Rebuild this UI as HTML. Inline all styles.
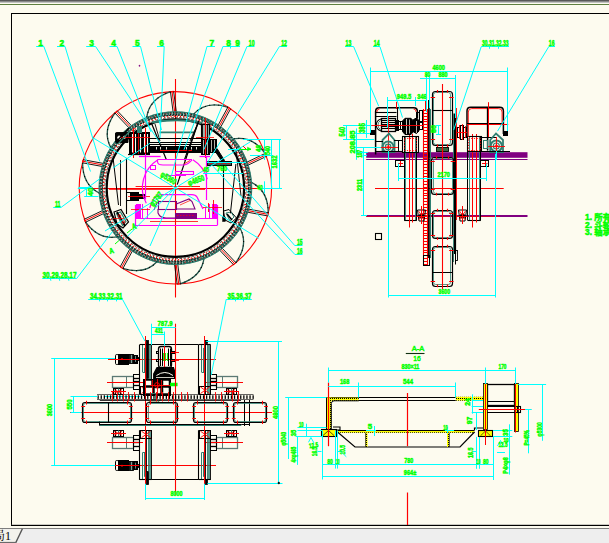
<!DOCTYPE html>
<html><head><meta charset="utf-8"><title>CAD</title>
<style>
html,body{margin:0;padding:0;background:#fdfbef;overflow:hidden}
#wrap{position:relative;width:609px;height:543px;background:#fdfbef;overflow:hidden;font-family:"Liberation Sans","Noto Sans CJK SC",sans-serif}
#topbar{position:absolute;left:0;top:0;width:609px;height:3px;background:linear-gradient(#585858 0,#585858 33%,#8a8a8a 33%,#8a8a8a 66%,#c2c2c2 66%)}
#topline{position:absolute;left:0;top:4px;width:609px;height:1px;background:#5f7f3f}
#tabbar{position:absolute;left:0;top:528px;width:609px;height:15px;background:#eeeeee;border-top:1.4px solid #7e7e7e;box-sizing:border-box}
#tab{position:absolute;left:-19px;top:527.5px;height:16px;width:32px;font-size:12px;line-height:16px;color:#000;font-family:"Liberation Serif","Noto Serif CJK SC",serif;white-space:nowrap}
svg{position:absolute;left:0;top:0}
svg text{font-family:"Liberation Sans","Noto Sans CJK SC",sans-serif}
</style></head><body>
<div id="wrap">
<div id="topbar"></div><div id="topline"></div>
<div id="tabbar"></div>
<svg width="609" height="543" viewBox="0 0 609 543">
<path d="M0.00,529.60 L22.00,529.60 L15.60,543.00 L0.00,543.00 Z" stroke="none" stroke-width="0" fill="#f3f2ec" />
<line x1="22.40" y1="528.80" x2="15.60" y2="543.00" stroke="#555555" stroke-width="1.4" />
<line x1="0.00" y1="542.50" x2="15.80" y2="542.50" stroke="#6a6a6a" stroke-width="1.2" />
<rect x="11.00" y="13.00" width="1.00" height="513.00" rx="0" stroke="none" stroke-width="0" fill="#000000" shape-rendering="crispEdges"/>
<rect x="11.00" y="13.00" width="598.00" height="1.00" rx="0" stroke="none" stroke-width="0" fill="#000000" shape-rendering="crispEdges"/>
<rect x="11.00" y="525.00" width="598.00" height="1.00" rx="0" stroke="none" stroke-width="0" fill="#000000" shape-rendering="crispEdges"/>
<rect x="11.00" y="524.70" width="598.00" height="0.30" rx="0" stroke="none" stroke-width="0" fill="#555" />
<circle cx="139.50" cy="65.80" r="0.70" stroke="#800080" stroke-width="0.3" fill="#800080" />
<circle cx="175.40" cy="187.80" r="96.20" stroke="#ff0000" stroke-width="1.1" fill="none" />
<line x1="175.50" y1="79.00" x2="175.50" y2="297.50" stroke="#ff0000" stroke-width="1.1" />
<line x1="90.50" y1="188.50" x2="258.30" y2="188.50" stroke="#ff0000" stroke-width="1.1" />
<line x1="135.60" y1="186.50" x2="200.00" y2="186.50" stroke="#ff0000" stroke-width="0.9" />
<line x1="109.00" y1="189.50" x2="205.00" y2="189.50" stroke="#ff0000" stroke-width="0.8" />
<path d="M170.70,91.71 Q148.55,98.87 146.70,118.51" stroke="#22574c" stroke-width="1.3" fill="none" />
<path d="M170.70,91.71 Q148.55,98.87 146.70,118.51" stroke="#000000" stroke-width="1.1" fill="none" stroke-dasharray="1 3.5"/>
<path d="M115.12,112.83 Q101.40,131.63 111.45,148.61" stroke="#22574c" stroke-width="1.3" fill="none" />
<path d="M115.12,112.83 Q101.40,131.63 111.45,148.61" stroke="#000000" stroke-width="1.1" fill="none" stroke-dasharray="1 3.5"/>
<path d="M82.57,162.58 Q82.52,185.85 100.63,193.68" stroke="#22574c" stroke-width="1.3" fill="none" />
<path d="M82.57,162.58 Q82.52,185.85 100.63,193.68" stroke="#000000" stroke-width="1.1" fill="none" stroke-dasharray="1 3.5"/>
<path d="M85.47,221.96 Q99.12,240.82 118.37,236.51" stroke="#22574c" stroke-width="1.3" fill="none" />
<path d="M85.47,221.96 Q99.12,240.82 118.37,236.51" stroke="#000000" stroke-width="1.1" fill="none" stroke-dasharray="1 3.5"/>
<path d="M122.72,268.30 Q144.85,275.53 157.89,260.73" stroke="#22574c" stroke-width="1.3" fill="none" />
<path d="M122.72,268.30 Q144.85,275.53 157.89,260.73" stroke="#000000" stroke-width="1.1" fill="none" stroke-dasharray="1 3.5"/>
<path d="M180.10,283.89 Q202.25,276.73 204.10,257.09" stroke="#22574c" stroke-width="1.3" fill="none" />
<path d="M180.10,283.89 Q202.25,276.73 204.10,257.09" stroke="#000000" stroke-width="1.1" fill="none" stroke-dasharray="1 3.5"/>
<path d="M235.68,262.77 Q249.40,243.97 239.35,226.99" stroke="#22574c" stroke-width="1.3" fill="none" />
<path d="M235.68,262.77 Q249.40,243.97 239.35,226.99" stroke="#000000" stroke-width="1.1" fill="none" stroke-dasharray="1 3.5"/>
<path d="M268.23,213.02 Q268.28,189.75 250.17,181.92" stroke="#22574c" stroke-width="1.3" fill="none" />
<path d="M268.23,213.02 Q268.28,189.75 250.17,181.92" stroke="#000000" stroke-width="1.1" fill="none" stroke-dasharray="1 3.5"/>
<path d="M265.33,153.64 Q251.68,134.78 232.43,139.09" stroke="#22574c" stroke-width="1.3" fill="none" />
<path d="M265.33,153.64 Q251.68,134.78 232.43,139.09" stroke="#000000" stroke-width="1.1" fill="none" stroke-dasharray="1 3.5"/>
<path d="M228.08,107.30 Q205.95,100.07 192.91,114.87" stroke="#22574c" stroke-width="1.3" fill="none" />
<path d="M228.08,107.30 Q205.95,100.07 192.91,114.87" stroke="#000000" stroke-width="1.1" fill="none" stroke-dasharray="1 3.5"/>
<line x1="170.45" y1="91.67" x2="173.15" y2="112.21" stroke="#000000" stroke-width="0.9" />
<line x1="173.62" y1="91.25" x2="176.32" y2="111.79" stroke="#000000" stroke-width="0.9" />
<line x1="172.04" y1="91.46" x2="174.74" y2="112.00" stroke="#ff0000" stroke-width="1" />
<line x1="170.45" y1="91.67" x2="173.62" y2="91.25" stroke="#ff0000" stroke-width="1" />
<line x1="114.89" y1="112.94" x2="129.15" y2="127.97" stroke="#000000" stroke-width="0.9" />
<line x1="117.21" y1="110.73" x2="131.47" y2="125.77" stroke="#000000" stroke-width="0.9" />
<line x1="116.05" y1="111.84" x2="130.31" y2="126.87" stroke="#ff0000" stroke-width="1" />
<line x1="114.89" y1="112.94" x2="117.21" y2="110.73" stroke="#ff0000" stroke-width="1" />
<line x1="82.44" y1="162.80" x2="102.82" y2="166.58" stroke="#000000" stroke-width="0.9" />
<line x1="83.03" y1="159.66" x2="103.40" y2="163.43" stroke="#000000" stroke-width="0.9" />
<line x1="82.73" y1="161.23" x2="103.11" y2="165.01" stroke="#ff0000" stroke-width="1" />
<line x1="82.44" y1="162.80" x2="83.03" y2="159.66" stroke="#ff0000" stroke-width="1" />
<line x1="85.50" y1="222.21" x2="104.21" y2="213.30" stroke="#000000" stroke-width="0.9" />
<line x1="84.12" y1="219.33" x2="102.83" y2="210.41" stroke="#000000" stroke-width="0.9" />
<line x1="84.81" y1="220.77" x2="103.52" y2="211.85" stroke="#ff0000" stroke-width="1" />
<line x1="85.50" y1="222.21" x2="84.12" y2="219.33" stroke="#ff0000" stroke-width="1" />
<line x1="122.90" y1="268.48" x2="132.79" y2="250.27" stroke="#000000" stroke-width="0.9" />
<line x1="120.09" y1="266.96" x2="129.98" y2="248.75" stroke="#000000" stroke-width="0.9" />
<line x1="121.49" y1="267.72" x2="131.38" y2="249.51" stroke="#ff0000" stroke-width="1" />
<line x1="122.90" y1="268.48" x2="120.09" y2="266.96" stroke="#ff0000" stroke-width="1" />
<line x1="180.35" y1="283.93" x2="177.65" y2="263.39" stroke="#000000" stroke-width="0.9" />
<line x1="177.18" y1="284.35" x2="174.48" y2="263.81" stroke="#000000" stroke-width="0.9" />
<line x1="178.76" y1="284.14" x2="176.06" y2="263.60" stroke="#ff0000" stroke-width="1" />
<line x1="180.35" y1="283.93" x2="177.18" y2="284.35" stroke="#ff0000" stroke-width="1" />
<line x1="235.91" y1="262.66" x2="221.65" y2="247.63" stroke="#000000" stroke-width="0.9" />
<line x1="233.59" y1="264.87" x2="219.33" y2="249.83" stroke="#000000" stroke-width="0.9" />
<line x1="234.75" y1="263.76" x2="220.49" y2="248.73" stroke="#ff0000" stroke-width="1" />
<line x1="235.91" y1="262.66" x2="233.59" y2="264.87" stroke="#ff0000" stroke-width="1" />
<line x1="268.36" y1="212.80" x2="247.98" y2="209.02" stroke="#000000" stroke-width="0.9" />
<line x1="267.77" y1="215.94" x2="247.40" y2="212.17" stroke="#000000" stroke-width="0.9" />
<line x1="268.07" y1="214.37" x2="247.69" y2="210.59" stroke="#ff0000" stroke-width="1" />
<line x1="268.36" y1="212.80" x2="267.77" y2="215.94" stroke="#ff0000" stroke-width="1" />
<line x1="265.30" y1="153.39" x2="246.59" y2="162.30" stroke="#000000" stroke-width="0.9" />
<line x1="266.68" y1="156.27" x2="247.97" y2="165.19" stroke="#000000" stroke-width="0.9" />
<line x1="265.99" y1="154.83" x2="247.28" y2="163.75" stroke="#ff0000" stroke-width="1" />
<line x1="265.30" y1="153.39" x2="266.68" y2="156.27" stroke="#ff0000" stroke-width="1" />
<line x1="227.90" y1="107.12" x2="218.01" y2="125.33" stroke="#000000" stroke-width="0.9" />
<line x1="230.71" y1="108.64" x2="220.82" y2="126.85" stroke="#000000" stroke-width="0.9" />
<line x1="229.31" y1="107.88" x2="219.42" y2="126.09" stroke="#ff0000" stroke-width="1" />
<line x1="227.90" y1="107.12" x2="230.71" y2="108.64" stroke="#ff0000" stroke-width="1" />
<circle cx="175.40" cy="188.10" r="74.60" stroke="#24665a" stroke-width="3.8" fill="none" stroke-dasharray="2.4 0.5"/>
<circle cx="175.40" cy="188.10" r="73.70" stroke="#000000" stroke-width="0.9" fill="none" stroke-dasharray="1.2 1.9"/>
<circle cx="175.40" cy="188.10" r="76.40" stroke="#2f7f70" stroke-width="1.0" fill="none" />
<circle cx="175.40" cy="188.10" r="74.10" stroke="#fdfbef" stroke-width="0.6" fill="none" stroke-dasharray="0.8 3.3"/>
<circle cx="175.40" cy="188.10" r="75.50" stroke="#000000" stroke-width="0.8" fill="none" stroke-dasharray="1 2.6"/>
<circle cx="175.40" cy="188.10" r="72.80" stroke="#000000" stroke-width="1.0" fill="none" stroke-dasharray="1.6 1.4"/>
<circle cx="175.40" cy="188.10" r="71.80" stroke="#ff0000" stroke-width="1.5" fill="none" stroke-dasharray="1.1 2.1"/>
<circle cx="175.40" cy="188.10" r="74.90" stroke="#ff0000" stroke-width="1.0" fill="none" stroke-dasharray="0.9 4.2"/>
<circle cx="175.40" cy="188.10" r="70.60" stroke="#000000" stroke-width="0.7" fill="none" stroke-dasharray="2.5 1.5"/>
<circle cx="175.40" cy="188.10" r="68.70" stroke="#000000" stroke-width="2.2" fill="none" />
<path d="M152,122.5 Q175.5,118.5 199,122" stroke="#2f7f70" stroke-width="2" fill="none" />
<line x1="159.50" y1="132.30" x2="194.00" y2="132.30" stroke="#2f7f70" stroke-width="1.8" />
<line x1="151.50" y1="123.30" x2="166.40" y2="159.80" stroke="#000000" stroke-width="1.2" />
<line x1="198.70" y1="120.80" x2="177.20" y2="184.60" stroke="#000000" stroke-width="1.2" />
<line x1="197.50" y1="124.00" x2="190.00" y2="141.00" stroke="#000000" stroke-width="0.9" />
<line x1="155.00" y1="124.00" x2="160.00" y2="141.00" stroke="#000000" stroke-width="0.9" />
<line x1="149.00" y1="138.50" x2="202.00" y2="138.50" stroke="#000000" stroke-width="1.0" />
<line x1="149.00" y1="142.50" x2="202.00" y2="142.50" stroke="#000000" stroke-width="1.2" />
<rect x="149.50" y="146.50" width="52.00" height="6.00" rx="0" stroke="#000000" stroke-width="1" fill="#000000" />
<line x1="149.00" y1="144.50" x2="202.00" y2="144.50" stroke="#000000" stroke-width="1.0" />
<line x1="160.00" y1="150.50" x2="192.00" y2="150.50" stroke="#ff0000" stroke-width="0.9" />
<line x1="156.50" y1="147.00" x2="156.50" y2="149.50" stroke="#fdfbef" stroke-width="0.9" />
<line x1="160.50" y1="147.00" x2="160.50" y2="149.50" stroke="#fdfbef" stroke-width="0.9" />
<line x1="166.50" y1="147.00" x2="166.50" y2="149.50" stroke="#fdfbef" stroke-width="0.9" />
<line x1="186.50" y1="147.00" x2="186.50" y2="149.50" stroke="#fdfbef" stroke-width="0.9" />
<line x1="191.50" y1="147.00" x2="191.50" y2="149.50" stroke="#fdfbef" stroke-width="0.9" />
<line x1="196.50" y1="147.00" x2="196.50" y2="149.50" stroke="#fdfbef" stroke-width="0.9" />
<path d="M115.5,134 Q115,132.6 117,132.6 L128,132.6 L128,142.5 L117,142.5 Q115,142.5 115.5,140.5 Z" stroke="#000000" stroke-width="1" fill="#000000" />
<circle cx="119.20" cy="137.60" r="1.60" stroke="#fdfbef" stroke-width="0.8" fill="#fdfbef" />
<circle cx="124.50" cy="137.20" r="1.20" stroke="#fdfbef" stroke-width="0.6" fill="#fdfbef" />
<rect x="129.50" y="132.50" width="20.00" height="22.00" rx="0" stroke="#000000" stroke-width="1" fill="#000000" />
<line x1="132.50" y1="134.00" x2="132.50" y2="152.50" stroke="#fdfbef" stroke-width="1.1" />
<line x1="135.50" y1="134.00" x2="135.50" y2="152.50" stroke="#fdfbef" stroke-width="1.1" />
<line x1="140.50" y1="134.00" x2="140.50" y2="152.50" stroke="#fdfbef" stroke-width="1.1" />
<line x1="144.50" y1="134.00" x2="144.50" y2="152.50" stroke="#fdfbef" stroke-width="1.1" />
<line x1="147.50" y1="134.00" x2="147.50" y2="152.50" stroke="#fdfbef" stroke-width="1.1" />
<line x1="133.50" y1="128.00" x2="133.50" y2="158.00" stroke="#ff0000" stroke-width="1.0" />
<line x1="145.50" y1="128.00" x2="145.50" y2="158.00" stroke="#ff0000" stroke-width="1.0" />
<line x1="129.00" y1="137.50" x2="150.00" y2="137.50" stroke="#ff0000" stroke-width="0.8" />
<line x1="120.00" y1="137.50" x2="130.00" y2="137.50" stroke="#ff0000" stroke-width="0.8" />
<line x1="138.50" y1="131.00" x2="138.50" y2="154.00" stroke="#ff0000" stroke-width="0.8" />
<rect x="137.50" y="126.50" width="4.00" height="6.00" rx="0" stroke="#2f7f70" stroke-width="1" fill="#2f7f70" />
<line x1="128.00" y1="154.50" x2="150.00" y2="154.50" stroke="#000000" stroke-width="1.2" />
<line x1="116.00" y1="142.00" x2="129.00" y2="128.00" stroke="#000000" stroke-width="1.4" />
<line x1="118.00" y1="144.00" x2="131.00" y2="130.00" stroke="#2f7f70" stroke-width="1.2" />
<rect x="201.50" y="124.50" width="8.00" height="15.00" rx="0" stroke="#000000" stroke-width="1.1" fill="#9db5ae" />
<line x1="202.50" y1="124.00" x2="202.50" y2="139.50" stroke="#000000" stroke-width="0.9" />
<line x1="207.50" y1="124.00" x2="207.50" y2="139.50" stroke="#000000" stroke-width="0.9" />
<rect x="201.50" y="139.50" width="8.00" height="15.00" rx="0" stroke="#000000" stroke-width="1" fill="#000000" />
<line x1="203.50" y1="140.00" x2="203.50" y2="154.00" stroke="#fdfbef" stroke-width="0.7" />
<line x1="207.50" y1="140.00" x2="207.50" y2="154.00" stroke="#fdfbef" stroke-width="0.7" />
<path d="M199.50,124.00 L205.20,119.00 L211.00,124.00" stroke="#2f7f70" stroke-width="1.3" fill="none" />
<line x1="205.50" y1="118.00" x2="205.50" y2="158.00" stroke="#ff0000" stroke-width="1.1" />
<line x1="196.00" y1="137.50" x2="214.00" y2="137.50" stroke="#ff0000" stroke-width="0.8" />
<rect x="209.50" y="139.50" width="7.00" height="13.00" rx="0" stroke="#000000" stroke-width="1" fill="#000000" />
<line x1="211.50" y1="140.00" x2="211.50" y2="152.00" stroke="#fdfbef" stroke-width="0.7" />
<line x1="214.50" y1="140.00" x2="214.50" y2="152.00" stroke="#fdfbef" stroke-width="0.7" />
<path d="M214.00,149.50 L217.00,148.50 L224.50,160.50 L222.00,161.50 Z" stroke="#000000" stroke-width="1" fill="#000000" />
<line x1="198.00" y1="123.00" x2="184.20" y2="160.30" stroke="#000000" stroke-width="1.1" />
<rect x="207.50" y="161.50" width="24.00" height="4.00" rx="0" stroke="#000000" stroke-width="1" fill="#3a5a55" />
<line x1="209.00" y1="163.50" x2="231.00" y2="163.50" stroke="#ff0000" stroke-width="0.8" stroke-dasharray="3 1.5"/>
<line x1="126.50" y1="158.00" x2="126.50" y2="214.00" stroke="#000000" stroke-width="1.1" />
<line x1="113.30" y1="159.80" x2="118.50" y2="205.00" stroke="#000000" stroke-width="1.0" />
<line x1="120.50" y1="160.00" x2="120.50" y2="206.00" stroke="#000000" stroke-width="0.9" />
<rect x="130.50" y="192.50" width="8.00" height="8.00" rx="0" stroke="#000000" stroke-width="1" fill="#000000" />
<rect x="138.50" y="194.50" width="7.00" height="4.00" rx="0" stroke="#000000" stroke-width="1" fill="#000000" />
<line x1="128.00" y1="196.50" x2="150.00" y2="196.50" stroke="#ff0000" stroke-width="0.8" />
<line x1="126.60" y1="192.50" x2="131.00" y2="192.50" stroke="#000000" stroke-width="1" />
<line x1="126.60" y1="200.50" x2="131.00" y2="200.50" stroke="#000000" stroke-width="1" />
<path d="M114.00,212.00 L121.00,209.50 L128.50,222.00 L123.00,228.00 L117.00,224.00 Z" stroke="#000000" stroke-width="1.2" fill="none" />
<path d="M116.50,213.50 L120.50,212.00 L126.00,221.50 L122.50,225.50 Z" stroke="#2f7f70" stroke-width="1.2" fill="none" />
<line x1="117.00" y1="212.00" x2="125.00" y2="226.00" stroke="#000000" stroke-width="1.8" />
<circle cx="119.50" cy="216.00" r="1.30" stroke="#ff0000" stroke-width="0.8" fill="none" />
<circle cx="123.50" cy="222.00" r="1.30" stroke="#ff0000" stroke-width="0.8" fill="none" />
<line x1="113.00" y1="218.50" x2="127.00" y2="218.50" stroke="#ff0000" stroke-width="0.7" />
<path d="M223.50,211.00 L229.00,209.50 L236.50,218.00 L231.00,223.00 L225.00,220.00 Z" stroke="#000000" stroke-width="1" fill="none" />
<path d="M226.00,213.00 L231.00,212.00 L234.00,217.00 L230.00,221.00 Z" stroke="#2f7f70" stroke-width="1" fill="none" />
<line x1="227.00" y1="214.00" x2="232.00" y2="220.00" stroke="#000000" stroke-width="1.6" />
<line x1="223.50" y1="165.20" x2="223.50" y2="220.00" stroke="#000000" stroke-width="1.1" />
<line x1="235.90" y1="164.00" x2="230.40" y2="213.40" stroke="#000000" stroke-width="1.0" />
<rect x="222.60" y="217.00" width="2.80" height="4.50" rx="0" stroke="#000000" stroke-width="0.5" fill="#000000" />
<line x1="236.00" y1="150.00" x2="241.00" y2="196.00" stroke="#000000" stroke-width="0.9" />
<line x1="139.00" y1="156.50" x2="160.60" y2="156.50" stroke="#ff00ff" stroke-width="1.3" />
<line x1="199.50" y1="156.50" x2="210.00" y2="156.50" stroke="#ff00ff" stroke-width="1.3" />
<line x1="145.50" y1="154.00" x2="145.50" y2="199.50" stroke="#ff00ff" stroke-width="1.2" />
<line x1="206.50" y1="157.00" x2="206.50" y2="200.00" stroke="#ff00ff" stroke-width="1.2" />
<path d="M157.91,159.81 A33,33 0 0 0 146.26,203.29" stroke="#ff00ff" stroke-width="1.2" fill="none" />
<path d="M192.89,159.81 A33,33 0 0 1 207.28,179.26" stroke="#ff00ff" stroke-width="1.2" fill="none" />
<path d="M157.5,159.8 L157.5,162 Q158,165 163,165 L184,165 Q188,164.5 192,159.8" stroke="#ff00ff" stroke-width="1.2" fill="none" />
<line x1="157.50" y1="159.50" x2="192.00" y2="159.50" stroke="#ff00ff" stroke-width="1.0" />
<line x1="184.00" y1="164.00" x2="190.00" y2="160.50" stroke="#ff0000" stroke-width="0.8" />
<rect x="150.50" y="165.50" width="5.00" height="4.00" rx="0" stroke="#ff00ff" stroke-width="1" fill="none" />
<rect x="175.50" y="171.50" width="18.00" height="3.00" rx="0" stroke="#ff00ff" stroke-width="1.1" fill="none" />
<line x1="166.00" y1="175.50" x2="186.00" y2="175.50" stroke="#ff00ff" stroke-width="1" />
<path d="M149.8,208 Q152,199 157,195.5 Q159,194.6 162,194.6 L192,194.6 Q195.5,194.6 197,197 L203,209" stroke="#ff00ff" stroke-width="1.3" fill="none" />
<path d="M154,210 Q157,201 160,201.5" stroke="#800080" stroke-width="1" fill="none" />
<line x1="135.00" y1="218.50" x2="217.50" y2="218.50" stroke="#ff00ff" stroke-width="1.2" />
<line x1="135.00" y1="225.50" x2="217.50" y2="225.50" stroke="#ff00ff" stroke-width="1.2" />
<line x1="135.50" y1="204.90" x2="135.50" y2="225.10" stroke="#ff00ff" stroke-width="1.2" />
<line x1="217.50" y1="204.90" x2="217.50" y2="225.10" stroke="#ff00ff" stroke-width="1.2" />
<rect x="136.50" y="204.50" width="4.00" height="14.00" rx="0" stroke="#ff00ff" stroke-width="1" fill="#ff00ff" />
<line x1="142.50" y1="204.00" x2="142.50" y2="219.00" stroke="#ff00ff" stroke-width="1" />
<line x1="147.50" y1="208.00" x2="147.50" y2="219.00" stroke="#ff00ff" stroke-width="1" />
<rect x="158.50" y="201.50" width="18.00" height="8.00" rx="0" stroke="#800080" stroke-width="1.1" fill="none" />
<path d="M176.30,204.00 L189.00,199.00 L192.00,201.50 L195.00,209.00 L176.30,209.00 Z" stroke="#800080" stroke-width="1.1" fill="none" />
<line x1="180.00" y1="205.00" x2="190.00" y2="200.50" stroke="#ff0000" stroke-width="0.7" />
<rect x="175.50" y="213.50" width="21.00" height="5.00" rx="0" stroke="#800080" stroke-width="1" fill="#800080" />
<line x1="177.00" y1="215.50" x2="195.00" y2="215.50" stroke="#ff0000" stroke-width="0.7" stroke-dasharray="1.5 1.5"/>
<path d="M158,209 L158,213 Q160,218 166,218 L196,218" stroke="#800080" stroke-width="1.1" fill="none" />
<line x1="205.50" y1="208.00" x2="205.50" y2="219.00" stroke="#ff00ff" stroke-width="1" />
<line x1="209.50" y1="204.00" x2="209.50" y2="219.00" stroke="#ff00ff" stroke-width="1" />
<rect x="212.50" y="204.50" width="4.00" height="14.00" rx="0" stroke="#ff00ff" stroke-width="1" fill="#ff00ff" />
<line x1="208.50" y1="203.00" x2="208.50" y2="212.00" stroke="#ff0000" stroke-width="0.9" />
<line x1="131.00" y1="209.50" x2="150.00" y2="209.50" stroke="#ff0000" stroke-width="0.8" />
<line x1="203.00" y1="207.50" x2="222.00" y2="207.50" stroke="#ff0000" stroke-width="0.8" />
<line x1="213.50" y1="200.00" x2="213.50" y2="214.00" stroke="#ff0000" stroke-width="0.9" />
<line x1="150.00" y1="221.50" x2="198.00" y2="221.50" stroke="#ff0000" stroke-width="0.8" />
<rect x="366.20" y="152.20" width="161.30" height="5.60" rx="0" stroke="none" stroke-width="0" fill="#800080" />
<line x1="366.20" y1="159.50" x2="527.50" y2="159.50" stroke="#800080" stroke-width="1" />
<line x1="366.20" y1="216.00" x2="527.50" y2="216.00" stroke="#800080" stroke-width="1.8" />
<line x1="375.00" y1="188.50" x2="503.70" y2="188.50" stroke="#ff0000" stroke-width="1.1" />
<line x1="366.00" y1="216.50" x2="500.00" y2="216.50" stroke="#ff0000" stroke-width="0.6" />
<line x1="404.50" y1="137.00" x2="404.50" y2="220.50" stroke="#000000" stroke-width="1.0" />
<line x1="405.50" y1="137.00" x2="405.50" y2="220.50" stroke="#2f7f70" stroke-width="0.9" />
<line x1="416.50" y1="137.00" x2="416.50" y2="220.50" stroke="#000000" stroke-width="1.0" />
<line x1="415.50" y1="137.00" x2="415.50" y2="220.50" stroke="#2f7f70" stroke-width="0.9" />
<line x1="404.20" y1="220.50" x2="416.80" y2="220.50" stroke="#000000" stroke-width="1.1" />
<line x1="409.50" y1="134.00" x2="409.50" y2="227.50" stroke="#ff0000" stroke-width="1.0" />
<line x1="412.50" y1="134.00" x2="412.50" y2="222.50" stroke="#ff0000" stroke-width="1.0" />
<line x1="467.50" y1="137.00" x2="467.50" y2="220.50" stroke="#000000" stroke-width="1.0" />
<line x1="469.50" y1="137.00" x2="469.50" y2="220.50" stroke="#2f7f70" stroke-width="0.9" />
<line x1="480.50" y1="137.00" x2="480.50" y2="220.50" stroke="#000000" stroke-width="1.0" />
<line x1="479.50" y1="137.00" x2="479.50" y2="220.50" stroke="#2f7f70" stroke-width="0.9" />
<line x1="467.70" y1="220.50" x2="480.80" y2="220.50" stroke="#000000" stroke-width="1.1" />
<line x1="472.50" y1="134.00" x2="472.50" y2="227.50" stroke="#ff0000" stroke-width="1.0" />
<line x1="476.50" y1="134.00" x2="476.50" y2="222.50" stroke="#ff0000" stroke-width="1.0" />
<rect x="402.50" y="136.50" width="16.00" height="16.00" rx="0" stroke="#000000" stroke-width="1.1" fill="none" />
<rect x="404.50" y="138.50" width="12.00" height="12.00" rx="0" stroke="#ff0000" stroke-width="0.9" fill="none" stroke-dasharray="1.2 1.5"/>
<rect x="467.50" y="136.50" width="14.00" height="15.00" rx="0" stroke="#000000" stroke-width="1.1" fill="none" />
<rect x="468.50" y="138.50" width="12.00" height="12.00" rx="0" stroke="#ff0000" stroke-width="0.9" fill="none" stroke-dasharray="1.2 1.5"/>
<rect x="395.50" y="160.50" width="9.00" height="6.00" rx="0" stroke="#000000" stroke-width="1" fill="none" />
<line x1="398.00" y1="163.50" x2="403.00" y2="163.50" stroke="#ff0000" stroke-width="1" />
<line x1="400.50" y1="161.00" x2="400.50" y2="166.00" stroke="#ff0000" stroke-width="1" />
<rect x="480.50" y="160.50" width="8.00" height="6.00" rx="0" stroke="#000000" stroke-width="1" fill="none" />
<line x1="482.00" y1="163.50" x2="487.50" y2="163.50" stroke="#ff0000" stroke-width="1" />
<line x1="485.50" y1="161.00" x2="485.50" y2="166.00" stroke="#ff0000" stroke-width="1" />
<line x1="423.50" y1="109.00" x2="423.50" y2="265.00" stroke="#ff0000" stroke-width="1.1" />
<line x1="427.50" y1="109.00" x2="427.50" y2="265.00" stroke="#ff0000" stroke-width="1.1" />
<line x1="428.90" y1="100.00" x2="428.90" y2="258.00" stroke="#000000" stroke-width="1.7" />
<line x1="430.50" y1="109.00" x2="430.50" y2="258.00" stroke="#2f7f70" stroke-width="1.0" />
<line x1="425.50" y1="100.00" x2="425.50" y2="110.00" stroke="#ff0000" stroke-width="1.0" />
<line x1="423.40" y1="110.50" x2="427.30" y2="110.50" stroke="#ff0000" stroke-width="1.0" />
<line x1="423.40" y1="113.50" x2="427.30" y2="113.50" stroke="#ff0000" stroke-width="1.0" />
<line x1="423.40" y1="116.50" x2="427.30" y2="116.50" stroke="#ff0000" stroke-width="1.0" />
<line x1="423.40" y1="119.50" x2="427.30" y2="119.50" stroke="#ff0000" stroke-width="1.0" />
<line x1="423.40" y1="121.50" x2="427.30" y2="121.50" stroke="#ff0000" stroke-width="1.0" />
<line x1="423.40" y1="124.50" x2="427.30" y2="124.50" stroke="#ff0000" stroke-width="1.0" />
<line x1="423.40" y1="127.50" x2="427.30" y2="127.50" stroke="#ff0000" stroke-width="1.0" />
<line x1="423.40" y1="130.50" x2="427.30" y2="130.50" stroke="#ff0000" stroke-width="1.0" />
<line x1="423.40" y1="133.50" x2="427.30" y2="133.50" stroke="#ff0000" stroke-width="1.0" />
<line x1="423.40" y1="136.50" x2="427.30" y2="136.50" stroke="#ff0000" stroke-width="1.0" />
<line x1="423.40" y1="138.50" x2="427.30" y2="138.50" stroke="#ff0000" stroke-width="1.0" />
<line x1="423.40" y1="141.50" x2="427.30" y2="141.50" stroke="#ff0000" stroke-width="1.0" />
<line x1="423.40" y1="144.50" x2="427.30" y2="144.50" stroke="#ff0000" stroke-width="1.0" />
<line x1="423.40" y1="147.50" x2="427.30" y2="147.50" stroke="#ff0000" stroke-width="1.0" />
<line x1="423.40" y1="150.50" x2="427.30" y2="150.50" stroke="#ff0000" stroke-width="1.0" />
<line x1="423.40" y1="153.50" x2="427.30" y2="153.50" stroke="#ff0000" stroke-width="1.0" />
<line x1="423.40" y1="156.50" x2="427.30" y2="156.50" stroke="#ff0000" stroke-width="1.0" />
<line x1="423.40" y1="158.50" x2="427.30" y2="158.50" stroke="#ff0000" stroke-width="1.0" />
<line x1="423.40" y1="161.50" x2="427.30" y2="161.50" stroke="#ff0000" stroke-width="1.0" />
<line x1="423.40" y1="164.50" x2="427.30" y2="164.50" stroke="#ff0000" stroke-width="1.0" />
<line x1="423.40" y1="167.50" x2="427.30" y2="167.50" stroke="#ff0000" stroke-width="1.0" />
<line x1="423.40" y1="170.50" x2="427.30" y2="170.50" stroke="#ff0000" stroke-width="1.0" />
<line x1="423.40" y1="173.50" x2="427.30" y2="173.50" stroke="#ff0000" stroke-width="1.0" />
<line x1="423.40" y1="176.50" x2="427.30" y2="176.50" stroke="#ff0000" stroke-width="1.0" />
<line x1="423.40" y1="178.50" x2="427.30" y2="178.50" stroke="#ff0000" stroke-width="1.0" />
<line x1="423.40" y1="181.50" x2="427.30" y2="181.50" stroke="#ff0000" stroke-width="1.0" />
<line x1="423.40" y1="184.50" x2="427.30" y2="184.50" stroke="#ff0000" stroke-width="1.0" />
<line x1="423.40" y1="187.50" x2="427.30" y2="187.50" stroke="#ff0000" stroke-width="1.0" />
<line x1="423.40" y1="190.50" x2="427.30" y2="190.50" stroke="#ff0000" stroke-width="1.0" />
<line x1="423.40" y1="193.50" x2="427.30" y2="193.50" stroke="#ff0000" stroke-width="1.0" />
<line x1="423.40" y1="195.50" x2="427.30" y2="195.50" stroke="#ff0000" stroke-width="1.0" />
<line x1="423.40" y1="198.50" x2="427.30" y2="198.50" stroke="#ff0000" stroke-width="1.0" />
<line x1="423.40" y1="201.50" x2="427.30" y2="201.50" stroke="#ff0000" stroke-width="1.0" />
<line x1="423.40" y1="204.50" x2="427.30" y2="204.50" stroke="#ff0000" stroke-width="1.0" />
<line x1="423.40" y1="207.50" x2="427.30" y2="207.50" stroke="#ff0000" stroke-width="1.0" />
<line x1="423.40" y1="210.50" x2="427.30" y2="210.50" stroke="#ff0000" stroke-width="1.0" />
<line x1="423.40" y1="213.50" x2="427.30" y2="213.50" stroke="#ff0000" stroke-width="1.0" />
<line x1="423.40" y1="215.50" x2="427.30" y2="215.50" stroke="#ff0000" stroke-width="1.0" />
<line x1="423.40" y1="218.50" x2="427.30" y2="218.50" stroke="#ff0000" stroke-width="1.0" />
<line x1="423.40" y1="221.50" x2="427.30" y2="221.50" stroke="#ff0000" stroke-width="1.0" />
<line x1="423.40" y1="224.50" x2="427.30" y2="224.50" stroke="#ff0000" stroke-width="1.0" />
<line x1="423.40" y1="227.50" x2="427.30" y2="227.50" stroke="#ff0000" stroke-width="1.0" />
<line x1="423.40" y1="230.50" x2="427.30" y2="230.50" stroke="#ff0000" stroke-width="1.0" />
<line x1="423.40" y1="233.50" x2="427.30" y2="233.50" stroke="#ff0000" stroke-width="1.0" />
<line x1="423.40" y1="235.50" x2="427.30" y2="235.50" stroke="#ff0000" stroke-width="1.0" />
<line x1="423.40" y1="238.50" x2="427.30" y2="238.50" stroke="#ff0000" stroke-width="1.0" />
<line x1="423.40" y1="241.50" x2="427.30" y2="241.50" stroke="#ff0000" stroke-width="1.0" />
<line x1="423.40" y1="244.50" x2="427.30" y2="244.50" stroke="#ff0000" stroke-width="1.0" />
<line x1="423.40" y1="247.50" x2="427.30" y2="247.50" stroke="#ff0000" stroke-width="1.0" />
<line x1="423.40" y1="250.50" x2="427.30" y2="250.50" stroke="#ff0000" stroke-width="1.0" />
<line x1="423.40" y1="252.50" x2="427.30" y2="252.50" stroke="#ff0000" stroke-width="1.0" />
<line x1="423.40" y1="255.50" x2="427.30" y2="255.50" stroke="#ff0000" stroke-width="1.0" />
<line x1="423.40" y1="258.50" x2="427.30" y2="258.50" stroke="#ff0000" stroke-width="1.0" />
<line x1="423.40" y1="261.50" x2="427.30" y2="261.50" stroke="#ff0000" stroke-width="1.0" />
<line x1="423.40" y1="264.50" x2="427.30" y2="264.50" stroke="#ff0000" stroke-width="1.0" />
<rect x="423.50" y="255.50" width="6.00" height="10.00" rx="0" stroke="#000000" stroke-width="1" fill="none" />
<line x1="455.00" y1="113.50" x2="455.00" y2="254.00" stroke="#000000" stroke-width="2.2" />
<line x1="453.50" y1="113.50" x2="453.50" y2="262.00" stroke="#2f7f70" stroke-width="0.9" />
<line x1="456.50" y1="108.00" x2="456.50" y2="220.00" stroke="#ff0000" stroke-width="0.9" />
<line x1="455.50" y1="254.00" x2="455.50" y2="264.50" stroke="#000000" stroke-width="1" />
<rect x="455.50" y="250.50" width="2.00" height="10.00" rx="0" stroke="#000000" stroke-width="0.9" fill="none" />
<rect x="432.50" y="91.50" width="20.00" height="54.00" rx="3.0" stroke="#000000" stroke-width="1.2" fill="none" />
<rect x="433.50" y="92.50" width="17.00" height="52.00" rx="2.2" stroke="#2f7f70" stroke-width="0.8" fill="none" />
<line x1="432.10" y1="110.50" x2="452.10" y2="110.50" stroke="#000000" stroke-width="1.1" />
<line x1="430.60" y1="97.50" x2="435.10" y2="97.50" stroke="#ff0000" stroke-width="1.0" />
<line x1="449.10" y1="97.50" x2="453.60" y2="97.50" stroke="#ff0000" stroke-width="1.0" />
<line x1="430.60" y1="139.50" x2="435.10" y2="139.50" stroke="#ff0000" stroke-width="1.0" />
<line x1="449.10" y1="139.50" x2="453.60" y2="139.50" stroke="#ff0000" stroke-width="1.0" />
<line x1="437.50" y1="90.00" x2="437.50" y2="92.70" stroke="#ff0000" stroke-width="1.2" />
<line x1="437.50" y1="144.30" x2="437.50" y2="147.00" stroke="#ff0000" stroke-width="1.2" />
<line x1="447.50" y1="90.00" x2="447.50" y2="92.70" stroke="#ff0000" stroke-width="1.2" />
<line x1="447.50" y1="144.30" x2="447.50" y2="147.00" stroke="#ff0000" stroke-width="1.2" />
<rect x="436.50" y="147.50" width="12.00" height="4.00" rx="0" stroke="#000000" stroke-width="0.9" fill="#3a6a40" />
<rect x="431.50" y="157.50" width="22.00" height="37.00" rx="3.0" stroke="#000000" stroke-width="1.2" fill="none" />
<rect x="433.50" y="158.50" width="19.00" height="35.00" rx="2.2" stroke="#2f7f70" stroke-width="0.8" fill="none" />
<line x1="430.30" y1="161.50" x2="434.80" y2="161.50" stroke="#ff0000" stroke-width="1.0" />
<line x1="450.70" y1="161.50" x2="455.20" y2="161.50" stroke="#ff0000" stroke-width="1.0" />
<line x1="430.30" y1="189.50" x2="434.80" y2="189.50" stroke="#ff0000" stroke-width="1.0" />
<line x1="450.70" y1="189.50" x2="455.20" y2="189.50" stroke="#ff0000" stroke-width="1.0" />
<line x1="436.50" y1="156.20" x2="436.50" y2="158.90" stroke="#ff0000" stroke-width="1.2" />
<line x1="436.50" y1="192.80" x2="436.50" y2="195.50" stroke="#ff0000" stroke-width="1.2" />
<line x1="448.50" y1="156.20" x2="448.50" y2="158.90" stroke="#ff0000" stroke-width="1.2" />
<line x1="448.50" y1="192.80" x2="448.50" y2="195.50" stroke="#ff0000" stroke-width="1.2" />
<rect x="432.50" y="210.50" width="20.00" height="28.00" rx="3.0" stroke="#000000" stroke-width="1.2" fill="none" />
<rect x="433.50" y="211.50" width="17.00" height="26.00" rx="2.2" stroke="#2f7f70" stroke-width="0.8" fill="none" />
<line x1="430.60" y1="213.50" x2="435.10" y2="213.50" stroke="#ff0000" stroke-width="1.0" />
<line x1="449.10" y1="213.50" x2="453.60" y2="213.50" stroke="#ff0000" stroke-width="1.0" />
<line x1="430.60" y1="235.50" x2="435.10" y2="235.50" stroke="#ff0000" stroke-width="1.0" />
<line x1="449.10" y1="235.50" x2="453.60" y2="235.50" stroke="#ff0000" stroke-width="1.0" />
<line x1="437.50" y1="208.80" x2="437.50" y2="211.50" stroke="#ff0000" stroke-width="1.2" />
<line x1="437.50" y1="237.20" x2="437.50" y2="239.90" stroke="#ff0000" stroke-width="1.2" />
<line x1="447.50" y1="208.80" x2="447.50" y2="211.50" stroke="#ff0000" stroke-width="1.2" />
<line x1="447.50" y1="237.20" x2="447.50" y2="239.90" stroke="#ff0000" stroke-width="1.2" />
<rect x="432.50" y="246.50" width="20.00" height="40.00" rx="3.0" stroke="#000000" stroke-width="1.2" fill="none" />
<rect x="433.50" y="247.50" width="17.00" height="37.00" rx="2.2" stroke="#2f7f70" stroke-width="0.8" fill="none" />
<line x1="430.60" y1="250.50" x2="435.10" y2="250.50" stroke="#ff0000" stroke-width="1.0" />
<line x1="449.10" y1="250.50" x2="453.60" y2="250.50" stroke="#ff0000" stroke-width="1.0" />
<line x1="430.60" y1="281.50" x2="435.10" y2="281.50" stroke="#ff0000" stroke-width="1.0" />
<line x1="449.10" y1="281.50" x2="453.60" y2="281.50" stroke="#ff0000" stroke-width="1.0" />
<line x1="437.50" y1="244.80" x2="437.50" y2="247.50" stroke="#ff0000" stroke-width="1.2" />
<line x1="437.50" y1="284.50" x2="437.50" y2="287.20" stroke="#ff0000" stroke-width="1.2" />
<line x1="447.50" y1="244.80" x2="447.50" y2="247.50" stroke="#ff0000" stroke-width="1.2" />
<line x1="447.50" y1="284.50" x2="447.50" y2="287.20" stroke="#ff0000" stroke-width="1.2" />
<line x1="432.10" y1="272.50" x2="452.10" y2="272.50" stroke="#000000" stroke-width="1" />
<line x1="442.50" y1="84.00" x2="442.50" y2="290.00" stroke="#ff0000" stroke-width="1.1" />
<path d="M417.50,210.00 L425.50,210.00 L424.00,221.00 L419.00,221.00 Z" stroke="#000000" stroke-width="1" fill="none" />
<circle cx="421.50" cy="216.00" r="2.20" stroke="#000000" stroke-width="1" fill="#000000" />
<line x1="416.50" y1="216.50" x2="426.50" y2="216.50" stroke="#ff0000" stroke-width="1" />
<line x1="421.50" y1="206.00" x2="421.50" y2="224.00" stroke="#ff0000" stroke-width="1" />
<line x1="418.50" y1="211.00" x2="424.50" y2="220.00" stroke="#ff0000" stroke-width="0.8" />
<line x1="424.50" y1="211.00" x2="418.50" y2="220.00" stroke="#ff0000" stroke-width="0.8" />
<path d="M458.50,210.00 L466.50,210.00 L465.00,221.00 L460.00,221.00 Z" stroke="#000000" stroke-width="1" fill="none" />
<circle cx="462.50" cy="216.00" r="2.20" stroke="#000000" stroke-width="1" fill="#000000" />
<line x1="457.50" y1="216.50" x2="467.50" y2="216.50" stroke="#ff0000" stroke-width="1" />
<line x1="462.50" y1="206.00" x2="462.50" y2="224.00" stroke="#ff0000" stroke-width="1" />
<line x1="459.50" y1="211.00" x2="465.50" y2="220.00" stroke="#ff0000" stroke-width="0.8" />
<line x1="465.50" y1="211.00" x2="459.50" y2="220.00" stroke="#ff0000" stroke-width="0.8" />
<path d="M375.6,154.4 L375.6,111.5 Q375.6,107.8 379.3,107.8 L413.7,107.8 Q417.4,107.8 417.4,111.5 L417.4,118.5" stroke="#000000" stroke-width="1.5" fill="none" />
<path d="M379.5,109 Q376.8,109 376.8,112" stroke="#ff0000" stroke-width="0.9" fill="none" />
<path d="M413.5,109 Q416.2,109 416.2,112" stroke="#ff0000" stroke-width="0.9" fill="none" />
<line x1="376.00" y1="112.50" x2="396.50" y2="112.50" stroke="#000000" stroke-width="1.1" />
<line x1="376.00" y1="116.50" x2="396.50" y2="116.50" stroke="#000000" stroke-width="1.0" />
<line x1="397.50" y1="107.80" x2="397.50" y2="120.30" stroke="#000000" stroke-width="1.1" />
<line x1="396.50" y1="101.80" x2="396.50" y2="109.00" stroke="#ff0000" stroke-width="1.0" />
<rect x="381.50" y="118.50" width="14.00" height="13.00" rx="0" stroke="#000000" stroke-width="1.3" fill="none" />
<line x1="381.50" y1="120.50" x2="395.00" y2="120.50" stroke="#000000" stroke-width="1.1" />
<line x1="381.50" y1="122.50" x2="395.00" y2="122.50" stroke="#000000" stroke-width="1.1" />
<line x1="381.50" y1="124.50" x2="395.00" y2="124.50" stroke="#000000" stroke-width="1.1" />
<line x1="381.50" y1="126.50" x2="395.00" y2="126.50" stroke="#000000" stroke-width="1.1" />
<line x1="381.50" y1="128.50" x2="395.00" y2="128.50" stroke="#000000" stroke-width="1.1" />
<path d="M381,119 Q376.3,120.5 376.3,125 Q376.3,129.5 381,131" stroke="#000000" stroke-width="1.1" fill="none" />
<path d="M380.5,120.5 Q378,122 378,125 Q378,128 380.5,129.5" stroke="#2f7f70" stroke-width="0.9" fill="none" />
<rect x="395.50" y="120.50" width="3.00" height="10.00" rx="0" stroke="#000000" stroke-width="1" fill="#000000" />
<rect x="398.50" y="121.50" width="4.00" height="8.00" rx="0" stroke="#000000" stroke-width="1" fill="none" />
<line x1="400.50" y1="121.50" x2="400.50" y2="129.00" stroke="#000000" stroke-width="1" />
<path d="M402.50,121.00 L405.00,118.30 L411.00,118.30 L413.50,121.00 L413.50,131.50 L411.00,134.50 L405.00,134.50 L402.50,131.50 Z" stroke="#000000" stroke-width="1" fill="#000000" />
<line x1="406.50" y1="119.00" x2="406.50" y2="134.00" stroke="#fdfbef" stroke-width="0.8" />
<line x1="409.50" y1="119.50" x2="409.50" y2="133.50" stroke="#fdfbef" stroke-width="0.7" />
<path d="M413.50,119.50 L416.50,118.00 L419.00,120.50 L419.00,131.00 L416.50,133.50 L413.50,132.00 Z" stroke="#000000" stroke-width="1" fill="#000000" />
<line x1="416.50" y1="119.00" x2="416.50" y2="133.00" stroke="#fdfbef" stroke-width="0.7" />
<rect x="419.50" y="121.50" width="3.00" height="8.00" rx="0" stroke="#000000" stroke-width="1" fill="none" />
<rect x="370.50" y="130.50" width="5.00" height="4.00" rx="0" stroke="#000000" stroke-width="1" fill="#000000" />
<line x1="371.00" y1="125.50" x2="423.00" y2="125.50" stroke="#ff0000" stroke-width="0.9" />
<line x1="388.50" y1="116.00" x2="388.50" y2="156.00" stroke="#ff0000" stroke-width="0.9" />
<circle cx="388.10" cy="147.00" r="5.50" stroke="#2f7f70" stroke-width="2.0" fill="none" />
<circle cx="388.10" cy="147.00" r="2.80" stroke="#2f7f70" stroke-width="1.2" fill="none" />
<circle cx="388.10" cy="147.00" r="1.20" stroke="#ff0000" stroke-width="1" fill="none" />
<path d="M382.50,140.00 L389.00,133.50 L394.50,140.00 L394.50,152.00 L382.50,152.00 Z" stroke="#2f7f70" stroke-width="1.8" fill="none" />
<line x1="380.00" y1="147.50" x2="398.00" y2="147.50" stroke="#ff0000" stroke-width="0.9" />
<line x1="375.60" y1="141.50" x2="383.00" y2="141.50" stroke="#000000" stroke-width="1" />
<line x1="375.60" y1="151.50" x2="402.00" y2="151.50" stroke="#000000" stroke-width="1.1" />
<line x1="394.00" y1="140.50" x2="402.50" y2="140.50" stroke="#000000" stroke-width="1" />
<line x1="398.50" y1="140.00" x2="398.50" y2="151.80" stroke="#000000" stroke-width="1" />
<rect x="416.50" y="112.50" width="3.00" height="8.00" rx="0" stroke="#000000" stroke-width="1" fill="none" />
<rect x="419.50" y="110.50" width="3.00" height="12.00" rx="0" stroke="#000000" stroke-width="1" fill="none" />
<path d="M467,137.5 L467,111 Q467,107.3 470.7,107.3 L499.7,107.3 Q503.4,107.3 503.4,111 L503.4,134" stroke="#000000" stroke-width="1.5" fill="none" />
<path d="M468.3,137 L468.3,112 Q468.3,108.6 471.7,108.6 L498.7,108.6 Q502.1,108.6 502.1,112 L502.1,123" stroke="#ff0000" stroke-width="0.9" fill="none" />
<line x1="467.00" y1="123.50" x2="504.00" y2="123.50" stroke="#000000" stroke-width="1.2" />
<line x1="467.00" y1="124.50" x2="508.20" y2="124.50" stroke="#ff0000" stroke-width="1.0" />
<line x1="487.60" y1="107.30" x2="487.60" y2="150.60" stroke="#000000" stroke-width="1.5" />
<line x1="488.50" y1="102.20" x2="488.50" y2="137.00" stroke="#ff0000" stroke-width="1.0" />
<line x1="481.80" y1="137.50" x2="497.00" y2="137.50" stroke="#000000" stroke-width="1" />
<rect x="457.50" y="127.50" width="3.00" height="10.00" rx="0" stroke="#000000" stroke-width="1" fill="none" />
<rect x="460.50" y="125.50" width="3.00" height="14.00" rx="0" stroke="#000000" stroke-width="1" fill="none" />
<rect x="463.50" y="127.50" width="3.00" height="10.00" rx="0" stroke="#000000" stroke-width="1" fill="none" />
<line x1="459.50" y1="125.00" x2="459.50" y2="139.00" stroke="#ff0000" stroke-width="0.9" />
<line x1="462.50" y1="124.00" x2="462.50" y2="140.00" stroke="#ff0000" stroke-width="0.9" />
<line x1="465.50" y1="126.00" x2="465.50" y2="138.00" stroke="#ff0000" stroke-width="0.9" />
<line x1="456.00" y1="132.50" x2="467.00" y2="132.50" stroke="#ff0000" stroke-width="0.9" />
<rect x="503.50" y="131.50" width="4.00" height="4.00" rx="0" stroke="#000000" stroke-width="1" fill="#000000" />
<circle cx="496.30" cy="146.00" r="5.60" stroke="#2f7f70" stroke-width="2.0" fill="none" />
<circle cx="496.30" cy="146.00" r="3.00" stroke="#2f7f70" stroke-width="1.2" fill="none" />
<circle cx="496.30" cy="146.00" r="1.20" stroke="#ff0000" stroke-width="1" fill="none" />
<path d="M490.20,140.00 L496.00,133.50 L503.00,140.00 L503.00,152.00 L490.20,152.00 Z" stroke="#2f7f70" stroke-width="1.8" fill="none" />
<line x1="488.00" y1="146.50" x2="505.00" y2="146.50" stroke="#ff0000" stroke-width="0.9" />
<line x1="496.50" y1="137.00" x2="496.50" y2="156.00" stroke="#ff0000" stroke-width="0.9" />
<line x1="481.80" y1="151.50" x2="510.00" y2="151.50" stroke="#000000" stroke-width="1" />
<rect x="483.50" y="140.50" width="4.00" height="8.00" rx="0" stroke="#2f7f70" stroke-width="1" fill="none" />
<rect x="375.50" y="233.50" width="6.00" height="6.00" rx="0" stroke="#000000" stroke-width="1.1" fill="none" />
<rect x="115.50" y="354.50" width="3.00" height="10.00" rx="1.2" stroke="#000000" stroke-width="1" fill="none" />
<rect x="118.50" y="354.50" width="10.00" height="10.00" rx="0" stroke="#000000" stroke-width="1" fill="#000000" />
<rect x="129.50" y="354.50" width="4.00" height="9.00" rx="0" stroke="#000000" stroke-width="0.9" fill="#7fa39a" />
<line x1="130.50" y1="354.50" x2="130.50" y2="363.50" stroke="#000000" stroke-width="0.8" />
<line x1="132.50" y1="354.50" x2="132.50" y2="363.50" stroke="#000000" stroke-width="0.8" />
<rect x="133.50" y="355.50" width="4.00" height="8.00" rx="0" stroke="#000000" stroke-width="1" fill="#000000" />
<line x1="135.50" y1="356.00" x2="135.50" y2="362.00" stroke="#7fa39a" stroke-width="0.8" />
<rect x="137.50" y="357.50" width="2.00" height="3.00" rx="0" stroke="#000000" stroke-width="0.8" fill="#000000" />
<circle cx="122.00" cy="359.00" r="0.70" stroke="#ff0000" stroke-width="0.6" fill="#ff0000" />
<line x1="108.00" y1="359.50" x2="216.00" y2="359.50" stroke="#ff0000" stroke-width="1.1" />
<rect x="112.50" y="376.50" width="21.00" height="11.00" rx="0" stroke="#5c7a74" stroke-width="1.3" fill="none" />
<line x1="126.50" y1="376.20" x2="126.50" y2="387.60" stroke="#5c7a74" stroke-width="1.0" />
<rect x="133.50" y="374.50" width="6.00" height="15.00" rx="0" stroke="#000000" stroke-width="1" fill="none" />
<line x1="134.00" y1="378.50" x2="139.00" y2="378.50" stroke="#000000" stroke-width="1.3" />
<line x1="134.00" y1="381.50" x2="139.00" y2="381.50" stroke="#000000" stroke-width="1.3" />
<line x1="134.00" y1="385.50" x2="139.00" y2="385.50" stroke="#000000" stroke-width="1.3" />
<line x1="107.00" y1="382.50" x2="143.00" y2="382.50" stroke="#ff0000" stroke-width="1.0" />
<rect x="216.50" y="376.50" width="21.00" height="11.00" rx="0" stroke="#5c7a74" stroke-width="1.3" fill="none" />
<line x1="222.50" y1="376.20" x2="222.50" y2="387.60" stroke="#5c7a74" stroke-width="1.0" />
<rect x="210.50" y="374.50" width="6.00" height="15.00" rx="0" stroke="#000000" stroke-width="1" fill="none" />
<line x1="211.00" y1="378.50" x2="216.00" y2="378.50" stroke="#000000" stroke-width="1.3" />
<line x1="211.00" y1="381.50" x2="216.00" y2="381.50" stroke="#000000" stroke-width="1.3" />
<line x1="211.00" y1="385.50" x2="216.00" y2="385.50" stroke="#000000" stroke-width="1.3" />
<line x1="206.00" y1="382.50" x2="243.00" y2="382.50" stroke="#ff0000" stroke-width="1.0" />
<rect x="113.50" y="388.50" width="10.00" height="6.00" rx="0" stroke="#000000" stroke-width="1" fill="none" />
<line x1="115.50" y1="388.50" x2="115.50" y2="394.50" stroke="#000000" stroke-width="1.2" />
<line x1="118.50" y1="388.50" x2="118.50" y2="394.50" stroke="#2f7f70" stroke-width="1" />
<line x1="120.50" y1="388.50" x2="120.50" y2="394.50" stroke="#000000" stroke-width="1.2" />
<line x1="111.00" y1="391.50" x2="126.00" y2="391.50" stroke="#ff0000" stroke-width="1" />
<line x1="114.00" y1="389.50" x2="122.00" y2="393.50" stroke="#ff0000" stroke-width="0.8" />
<line x1="122.00" y1="389.50" x2="114.00" y2="393.50" stroke="#ff0000" stroke-width="0.8" />
<rect x="226.50" y="388.50" width="10.00" height="6.00" rx="0" stroke="#000000" stroke-width="1" fill="none" />
<line x1="228.50" y1="388.50" x2="228.50" y2="394.50" stroke="#000000" stroke-width="1.2" />
<line x1="231.50" y1="388.50" x2="231.50" y2="394.50" stroke="#2f7f70" stroke-width="1" />
<line x1="233.50" y1="388.50" x2="233.50" y2="394.50" stroke="#000000" stroke-width="1.2" />
<line x1="224.00" y1="391.50" x2="239.00" y2="391.50" stroke="#ff0000" stroke-width="1" />
<line x1="227.00" y1="389.50" x2="235.00" y2="393.50" stroke="#ff0000" stroke-width="0.8" />
<line x1="235.00" y1="389.50" x2="227.00" y2="393.50" stroke="#ff0000" stroke-width="0.8" />
<line x1="139.50" y1="344.90" x2="139.50" y2="394.50" stroke="#000000" stroke-width="1.1" />
<line x1="142.50" y1="344.90" x2="142.50" y2="372.00" stroke="#2f7f70" stroke-width="1.0" />
<line x1="144.50" y1="347.90" x2="144.50" y2="372.00" stroke="#2f7f70" stroke-width="1.0" />
<line x1="142.50" y1="372.50" x2="145.50" y2="372.50" stroke="#2f7f70" stroke-width="1" />
<line x1="145.50" y1="336.00" x2="145.50" y2="394.50" stroke="#ff0000" stroke-width="1.0" />
<rect x="146.50" y="340.50" width="2.00" height="38.00" rx="0" stroke="#000000" stroke-width="0.8" fill="#000000" />
<line x1="146.50" y1="379.00" x2="146.50" y2="394.50" stroke="#000000" stroke-width="0.9" />
<line x1="148.50" y1="379.00" x2="148.50" y2="394.50" stroke="#2f7f70" stroke-width="0.9" />
<line x1="149.50" y1="344.90" x2="149.50" y2="394.50" stroke="#2f7f70" stroke-width="0.8" />
<line x1="150.50" y1="344.90" x2="150.50" y2="394.50" stroke="#2f7f70" stroke-width="0.8" />
<line x1="151.50" y1="344.90" x2="151.50" y2="394.50" stroke="#000000" stroke-width="0.9" />
<line x1="139.50" y1="344.50" x2="151.70" y2="344.50" stroke="#000000" stroke-width="1.1" />
<rect x="140.50" y="386.50" width="11.00" height="8.00" rx="0" stroke="#000000" stroke-width="1" fill="none" />
<line x1="141.50" y1="387.00" x2="150.50" y2="393.50" stroke="#ff0000" stroke-width="0.9" />
<line x1="150.50" y1="387.00" x2="141.50" y2="393.50" stroke="#ff0000" stroke-width="0.9" />
<line x1="198.50" y1="344.90" x2="198.50" y2="394.50" stroke="#000000" stroke-width="1.1" />
<line x1="201.50" y1="344.90" x2="201.50" y2="372.00" stroke="#2f7f70" stroke-width="1.0" />
<line x1="203.50" y1="347.90" x2="203.50" y2="372.00" stroke="#2f7f70" stroke-width="1.0" />
<line x1="201.50" y1="372.50" x2="204.50" y2="372.50" stroke="#2f7f70" stroke-width="1" />
<line x1="204.50" y1="336.00" x2="204.50" y2="394.50" stroke="#ff0000" stroke-width="1.0" />
<rect x="205.50" y="340.50" width="2.00" height="3.00" rx="0" stroke="#000000" stroke-width="0.8" fill="#000000" />
<line x1="205.50" y1="343.80" x2="205.50" y2="394.50" stroke="#000000" stroke-width="0.9" />
<line x1="207.50" y1="343.80" x2="207.50" y2="394.50" stroke="#2f7f70" stroke-width="0.9" />
<line x1="208.50" y1="344.90" x2="208.50" y2="394.50" stroke="#2f7f70" stroke-width="0.8" />
<line x1="209.50" y1="344.90" x2="209.50" y2="394.50" stroke="#2f7f70" stroke-width="0.8" />
<line x1="210.50" y1="344.90" x2="210.50" y2="394.50" stroke="#000000" stroke-width="0.9" />
<line x1="198.50" y1="344.50" x2="210.70" y2="344.50" stroke="#000000" stroke-width="1.1" />
<rect x="199.50" y="386.50" width="11.00" height="8.00" rx="0" stroke="#000000" stroke-width="1" fill="none" />
<line x1="200.50" y1="387.00" x2="209.50" y2="393.50" stroke="#ff0000" stroke-width="0.9" />
<line x1="209.50" y1="387.00" x2="200.50" y2="393.50" stroke="#ff0000" stroke-width="0.9" />
<line x1="151.70" y1="344.50" x2="198.50" y2="344.50" stroke="#000000" stroke-width="1.1" />
<rect x="115.50" y="460.50" width="3.00" height="10.00" rx="1.2" stroke="#000000" stroke-width="1" fill="none" />
<rect x="118.50" y="460.50" width="10.00" height="10.00" rx="0" stroke="#000000" stroke-width="1" fill="#000000" />
<rect x="129.50" y="461.50" width="4.00" height="9.00" rx="0" stroke="#000000" stroke-width="0.9" fill="#7fa39a" />
<line x1="130.50" y1="461.20" x2="130.50" y2="470.20" stroke="#000000" stroke-width="0.8" />
<line x1="132.50" y1="461.20" x2="132.50" y2="470.20" stroke="#000000" stroke-width="0.8" />
<rect x="133.50" y="461.50" width="4.00" height="8.00" rx="0" stroke="#000000" stroke-width="1" fill="#000000" />
<line x1="135.50" y1="462.70" x2="135.50" y2="468.70" stroke="#7fa39a" stroke-width="0.8" />
<rect x="137.50" y="464.50" width="2.00" height="3.00" rx="0" stroke="#000000" stroke-width="0.8" fill="#000000" />
<circle cx="122.00" cy="465.70" r="0.70" stroke="#ff0000" stroke-width="0.6" fill="#ff0000" />
<line x1="108.00" y1="465.50" x2="216.00" y2="465.50" stroke="#ff0000" stroke-width="1.1" />
<rect x="112.50" y="437.50" width="21.00" height="11.00" rx="0" stroke="#5c7a74" stroke-width="1.3" fill="none" />
<line x1="126.50" y1="437.10" x2="126.50" y2="448.50" stroke="#5c7a74" stroke-width="1.0" />
<rect x="133.50" y="435.50" width="6.00" height="15.00" rx="0" stroke="#000000" stroke-width="1" fill="none" />
<line x1="134.00" y1="439.50" x2="139.00" y2="439.50" stroke="#000000" stroke-width="1.3" />
<line x1="134.00" y1="442.50" x2="139.00" y2="442.50" stroke="#000000" stroke-width="1.3" />
<line x1="134.00" y1="446.50" x2="139.00" y2="446.50" stroke="#000000" stroke-width="1.3" />
<line x1="107.00" y1="442.50" x2="143.00" y2="442.50" stroke="#ff0000" stroke-width="1.0" />
<rect x="216.50" y="437.50" width="21.00" height="11.00" rx="0" stroke="#5c7a74" stroke-width="1.3" fill="none" />
<line x1="222.50" y1="437.10" x2="222.50" y2="448.50" stroke="#5c7a74" stroke-width="1.0" />
<rect x="210.50" y="435.50" width="6.00" height="15.00" rx="0" stroke="#000000" stroke-width="1" fill="none" />
<line x1="211.00" y1="439.50" x2="216.00" y2="439.50" stroke="#000000" stroke-width="1.3" />
<line x1="211.00" y1="442.50" x2="216.00" y2="442.50" stroke="#000000" stroke-width="1.3" />
<line x1="211.00" y1="446.50" x2="216.00" y2="446.50" stroke="#000000" stroke-width="1.3" />
<line x1="206.00" y1="442.50" x2="243.00" y2="442.50" stroke="#ff0000" stroke-width="1.0" />
<rect x="113.50" y="430.50" width="10.00" height="6.00" rx="0" stroke="#000000" stroke-width="1" fill="none" />
<line x1="115.50" y1="430.20" x2="115.50" y2="436.20" stroke="#000000" stroke-width="1.2" />
<line x1="118.50" y1="430.20" x2="118.50" y2="436.20" stroke="#2f7f70" stroke-width="1" />
<line x1="120.50" y1="430.20" x2="120.50" y2="436.20" stroke="#000000" stroke-width="1.2" />
<line x1="111.00" y1="433.50" x2="126.00" y2="433.50" stroke="#ff0000" stroke-width="1" />
<line x1="114.00" y1="431.20" x2="122.00" y2="435.20" stroke="#ff0000" stroke-width="0.8" />
<line x1="122.00" y1="431.20" x2="114.00" y2="435.20" stroke="#ff0000" stroke-width="0.8" />
<rect x="226.50" y="430.50" width="10.00" height="6.00" rx="0" stroke="#000000" stroke-width="1" fill="none" />
<line x1="228.50" y1="430.20" x2="228.50" y2="436.20" stroke="#000000" stroke-width="1.2" />
<line x1="231.50" y1="430.20" x2="231.50" y2="436.20" stroke="#2f7f70" stroke-width="1" />
<line x1="233.50" y1="430.20" x2="233.50" y2="436.20" stroke="#000000" stroke-width="1.2" />
<line x1="224.00" y1="433.50" x2="239.00" y2="433.50" stroke="#ff0000" stroke-width="1" />
<line x1="227.00" y1="431.20" x2="235.00" y2="435.20" stroke="#ff0000" stroke-width="0.8" />
<line x1="235.00" y1="431.20" x2="227.00" y2="435.20" stroke="#ff0000" stroke-width="0.8" />
<line x1="139.50" y1="479.80" x2="139.50" y2="430.20" stroke="#000000" stroke-width="1.1" />
<line x1="142.50" y1="479.80" x2="142.50" y2="452.70" stroke="#2f7f70" stroke-width="1.0" />
<line x1="144.50" y1="476.80" x2="144.50" y2="452.70" stroke="#2f7f70" stroke-width="1.0" />
<line x1="142.50" y1="452.50" x2="145.50" y2="452.50" stroke="#2f7f70" stroke-width="1" />
<line x1="145.50" y1="488.70" x2="145.50" y2="430.20" stroke="#ff0000" stroke-width="1.0" />
<rect x="146.50" y="471.50" width="2.00" height="13.00" rx="0" stroke="#000000" stroke-width="0.8" fill="#000000" />
<line x1="146.50" y1="471.30" x2="146.50" y2="430.20" stroke="#000000" stroke-width="0.9" />
<line x1="148.50" y1="471.30" x2="148.50" y2="430.20" stroke="#2f7f70" stroke-width="0.9" />
<line x1="149.50" y1="479.80" x2="149.50" y2="430.20" stroke="#2f7f70" stroke-width="0.8" />
<line x1="150.50" y1="479.80" x2="150.50" y2="430.20" stroke="#2f7f70" stroke-width="0.8" />
<line x1="151.50" y1="479.80" x2="151.50" y2="430.20" stroke="#000000" stroke-width="0.9" />
<line x1="139.50" y1="479.50" x2="151.70" y2="479.50" stroke="#000000" stroke-width="1.1" />
<rect x="140.50" y="430.50" width="11.00" height="8.00" rx="0" stroke="#000000" stroke-width="1" fill="none" />
<line x1="141.50" y1="431.20" x2="150.50" y2="437.70" stroke="#ff0000" stroke-width="0.9" />
<line x1="150.50" y1="431.20" x2="141.50" y2="437.70" stroke="#ff0000" stroke-width="0.9" />
<line x1="198.50" y1="479.80" x2="198.50" y2="430.20" stroke="#000000" stroke-width="1.1" />
<line x1="201.50" y1="479.80" x2="201.50" y2="452.70" stroke="#2f7f70" stroke-width="1.0" />
<line x1="203.50" y1="476.80" x2="203.50" y2="452.70" stroke="#2f7f70" stroke-width="1.0" />
<line x1="201.50" y1="452.50" x2="204.50" y2="452.50" stroke="#2f7f70" stroke-width="1" />
<line x1="204.50" y1="488.70" x2="204.50" y2="430.20" stroke="#ff0000" stroke-width="1.0" />
<rect x="205.50" y="479.50" width="2.00" height="5.00" rx="0" stroke="#000000" stroke-width="0.8" fill="#000000" />
<line x1="205.50" y1="479.60" x2="205.50" y2="430.20" stroke="#000000" stroke-width="0.9" />
<line x1="207.50" y1="479.60" x2="207.50" y2="430.20" stroke="#2f7f70" stroke-width="0.9" />
<line x1="208.50" y1="479.80" x2="208.50" y2="430.20" stroke="#2f7f70" stroke-width="0.8" />
<line x1="209.50" y1="479.80" x2="209.50" y2="430.20" stroke="#2f7f70" stroke-width="0.8" />
<line x1="210.50" y1="479.80" x2="210.50" y2="430.20" stroke="#000000" stroke-width="0.9" />
<line x1="198.50" y1="479.50" x2="210.70" y2="479.50" stroke="#000000" stroke-width="1.1" />
<rect x="199.50" y="430.50" width="11.00" height="8.00" rx="0" stroke="#000000" stroke-width="1" fill="none" />
<line x1="200.50" y1="431.20" x2="209.50" y2="437.70" stroke="#ff0000" stroke-width="0.9" />
<line x1="209.50" y1="431.20" x2="200.50" y2="437.70" stroke="#ff0000" stroke-width="0.9" />
<line x1="151.70" y1="479.50" x2="198.50" y2="479.50" stroke="#000000" stroke-width="1.1" />
<rect x="158.50" y="346.50" width="13.00" height="21.00" rx="2.5" stroke="#000000" stroke-width="1.3" fill="none" />
<line x1="160.50" y1="348.50" x2="160.50" y2="366.00" stroke="#000000" stroke-width="1.0" />
<line x1="162.50" y1="348.50" x2="162.50" y2="366.00" stroke="#000000" stroke-width="1.0" />
<line x1="168.50" y1="348.50" x2="168.50" y2="366.00" stroke="#000000" stroke-width="1.0" />
<line x1="170.50" y1="348.50" x2="170.50" y2="366.00" stroke="#000000" stroke-width="1.0" />
<line x1="163.50" y1="353.00" x2="163.50" y2="361.00" stroke="#00ff00" stroke-width="0.9" />
<line x1="165.50" y1="353.00" x2="165.50" y2="361.00" stroke="#00ff00" stroke-width="0.9" />
<line x1="167.50" y1="353.00" x2="167.50" y2="361.00" stroke="#00ff00" stroke-width="0.9" />
<line x1="164.50" y1="336.00" x2="164.50" y2="396.00" stroke="#ff0000" stroke-width="1.0" />
<rect x="156.50" y="351.50" width="2.00" height="2.00" rx="0" stroke="#000000" stroke-width="1" fill="none" />
<rect x="156.50" y="359.50" width="2.00" height="2.00" rx="0" stroke="#000000" stroke-width="1" fill="none" />
<rect x="171.50" y="351.50" width="3.00" height="2.00" rx="0" stroke="#000000" stroke-width="1" fill="none" />
<rect x="171.50" y="359.50" width="3.00" height="2.00" rx="0" stroke="#000000" stroke-width="1" fill="none" />
<line x1="171.00" y1="352.50" x2="179.00" y2="352.50" stroke="#ff0000" stroke-width="0.9" />
<line x1="171.00" y1="360.50" x2="179.00" y2="360.50" stroke="#ff0000" stroke-width="0.9" />
<rect x="162.50" y="368.00" width="4.00" height="1.60" rx="0" stroke="#00ff00" stroke-width="0.5" fill="#00ff00" />
<path d="M157.00,367.60 L173.50,367.60 L175.40,374.00 L175.40,378.40 L153.70,378.40 L153.70,374.00 Z" stroke="#000000" stroke-width="1.2" fill="#000000" />
<path d="M156.5,375.5 Q164.9,369.5 173,375.5" stroke="#fdfbef" stroke-width="1.0" fill="none" />
<line x1="156.00" y1="377.50" x2="174.00" y2="377.50" stroke="#fdfbef" stroke-width="0.8" />
<rect x="143.50" y="379.50" width="27.00" height="16.00" rx="0" stroke="#000000" stroke-width="1" fill="#000000" />
<rect x="146.00" y="381.00" width="5.00" height="4.00" rx="0" stroke="#fdfbef" stroke-width="0.5" fill="#fdfbef" />
<rect x="146.00" y="388.00" width="6.00" height="5.00" rx="0" stroke="#fdfbef" stroke-width="0.5" fill="#fdfbef" />
<rect x="155.00" y="388.50" width="5.00" height="4.50" rx="0" stroke="#fdfbef" stroke-width="0.5" fill="#fdfbef" />
<rect x="163.50" y="381.00" width="5.00" height="4.00" rx="0" stroke="#fdfbef" stroke-width="0.5" fill="#fdfbef" />
<rect x="163.50" y="388.00" width="5.00" height="5.00" rx="0" stroke="#fdfbef" stroke-width="0.5" fill="#fdfbef" />
<circle cx="157.00" cy="385.00" r="2.40" stroke="#ff0000" stroke-width="0.9" fill="none" />
<line x1="150.00" y1="385.50" x2="176.00" y2="385.50" stroke="#ff0000" stroke-width="0.9" />
<line x1="157.50" y1="379.00" x2="157.50" y2="398.00" stroke="#ff0000" stroke-width="0.9" />
<line x1="152.50" y1="380.00" x2="152.50" y2="395.00" stroke="#ff0000" stroke-width="0.8" />
<line x1="161.50" y1="380.00" x2="161.50" y2="395.00" stroke="#ff0000" stroke-width="0.8" />
<rect x="170.20" y="383.00" width="7.00" height="3.00" rx="0" stroke="#00ff00" stroke-width="0.5" fill="#00ff00" />
<path d="M147,399.5 L150,402 L158,402 L161,399.5" stroke="#6b7d3f" stroke-width="1.0" fill="none" />
<rect x="151.50" y="393.50" width="4.00" height="6.00" rx="0" stroke="#2f7f70" stroke-width="0.9" fill="none" />
<line x1="175.50" y1="323.70" x2="175.50" y2="495.00" stroke="#ff0000" stroke-width="1.1" />
<line x1="204.50" y1="336.00" x2="204.50" y2="482.50" stroke="#ff0000" stroke-width="1.0" />
<line x1="145.50" y1="336.00" x2="145.50" y2="488.00" stroke="#ff0000" stroke-width="1.0" />
<line x1="70.00" y1="412.50" x2="272.00" y2="412.50" stroke="#ff0000" stroke-width="1.1" />
<line x1="97.00" y1="394.50" x2="253.50" y2="394.50" stroke="#000000" stroke-width="0.6" />
<line x1="97.00" y1="399.50" x2="253.50" y2="399.50" stroke="#000000" stroke-width="0.6" />
<line x1="105.00" y1="396.50" x2="140.00" y2="396.50" stroke="#00ffff" stroke-width="1.0" />
<rect x="97.50" y="395.30" width="1.30" height="3.60" rx="0" stroke="none" stroke-width="0" fill="#000000" />
<rect x="100.60" y="395.30" width="1.30" height="3.60" rx="0" stroke="none" stroke-width="0" fill="#000000" />
<rect x="103.70" y="395.30" width="1.30" height="3.60" rx="0" stroke="none" stroke-width="0" fill="#000000" />
<rect x="106.80" y="395.30" width="1.30" height="3.60" rx="0" stroke="none" stroke-width="0" fill="#000000" />
<rect x="109.90" y="395.30" width="1.30" height="3.60" rx="0" stroke="none" stroke-width="0" fill="#000000" />
<rect x="113.00" y="395.30" width="1.30" height="3.60" rx="0" stroke="none" stroke-width="0" fill="#000000" />
<rect x="116.10" y="395.30" width="1.30" height="3.60" rx="0" stroke="none" stroke-width="0" fill="#000000" />
<rect x="119.20" y="395.30" width="1.30" height="3.60" rx="0" stroke="none" stroke-width="0" fill="#000000" />
<rect x="122.30" y="395.30" width="1.30" height="3.60" rx="0" stroke="none" stroke-width="0" fill="#000000" />
<rect x="125.40" y="395.30" width="1.30" height="3.60" rx="0" stroke="none" stroke-width="0" fill="#000000" />
<rect x="128.50" y="395.30" width="1.30" height="3.60" rx="0" stroke="none" stroke-width="0" fill="#000000" />
<rect x="131.60" y="395.30" width="1.30" height="3.60" rx="0" stroke="none" stroke-width="0" fill="#000000" />
<rect x="134.70" y="395.30" width="1.30" height="3.60" rx="0" stroke="none" stroke-width="0" fill="#000000" />
<rect x="137.80" y="395.30" width="1.30" height="3.60" rx="0" stroke="none" stroke-width="0" fill="#000000" />
<rect x="140.90" y="395.30" width="1.30" height="3.60" rx="0" stroke="none" stroke-width="0" fill="#000000" />
<rect x="144.00" y="395.30" width="1.30" height="3.60" rx="0" stroke="none" stroke-width="0" fill="#000000" />
<rect x="147.10" y="395.30" width="1.30" height="3.60" rx="0" stroke="none" stroke-width="0" fill="#000000" />
<rect x="150.20" y="395.30" width="1.30" height="3.60" rx="0" stroke="none" stroke-width="0" fill="#000000" />
<rect x="153.30" y="395.30" width="1.30" height="3.60" rx="0" stroke="none" stroke-width="0" fill="#000000" />
<rect x="156.40" y="395.30" width="1.30" height="3.60" rx="0" stroke="none" stroke-width="0" fill="#000000" />
<rect x="159.50" y="395.30" width="1.30" height="3.60" rx="0" stroke="none" stroke-width="0" fill="#000000" />
<rect x="162.60" y="395.30" width="1.30" height="3.60" rx="0" stroke="none" stroke-width="0" fill="#000000" />
<rect x="165.70" y="395.30" width="1.30" height="3.60" rx="0" stroke="none" stroke-width="0" fill="#000000" />
<rect x="168.80" y="395.30" width="1.30" height="3.60" rx="0" stroke="none" stroke-width="0" fill="#000000" />
<rect x="171.90" y="395.30" width="1.30" height="3.60" rx="0" stroke="none" stroke-width="0" fill="#000000" />
<rect x="175.00" y="395.30" width="1.30" height="3.60" rx="0" stroke="none" stroke-width="0" fill="#000000" />
<rect x="178.10" y="395.30" width="1.30" height="3.60" rx="0" stroke="none" stroke-width="0" fill="#000000" />
<rect x="181.20" y="395.30" width="1.30" height="3.60" rx="0" stroke="none" stroke-width="0" fill="#000000" />
<rect x="184.30" y="395.30" width="1.30" height="3.60" rx="0" stroke="none" stroke-width="0" fill="#000000" />
<rect x="187.40" y="395.30" width="1.30" height="3.60" rx="0" stroke="none" stroke-width="0" fill="#000000" />
<rect x="190.50" y="395.30" width="1.30" height="3.60" rx="0" stroke="none" stroke-width="0" fill="#000000" />
<rect x="193.60" y="395.30" width="1.30" height="3.60" rx="0" stroke="none" stroke-width="0" fill="#000000" />
<rect x="196.70" y="395.30" width="1.30" height="3.60" rx="0" stroke="none" stroke-width="0" fill="#000000" />
<rect x="199.80" y="395.30" width="1.30" height="3.60" rx="0" stroke="none" stroke-width="0" fill="#000000" />
<rect x="202.90" y="395.30" width="1.30" height="3.60" rx="0" stroke="none" stroke-width="0" fill="#000000" />
<rect x="206.00" y="395.30" width="1.30" height="3.60" rx="0" stroke="none" stroke-width="0" fill="#000000" />
<rect x="209.10" y="395.30" width="1.30" height="3.60" rx="0" stroke="none" stroke-width="0" fill="#000000" />
<rect x="212.20" y="395.30" width="1.30" height="3.60" rx="0" stroke="none" stroke-width="0" fill="#000000" />
<rect x="215.30" y="395.30" width="1.30" height="3.60" rx="0" stroke="none" stroke-width="0" fill="#000000" />
<rect x="218.40" y="395.30" width="1.30" height="3.60" rx="0" stroke="none" stroke-width="0" fill="#000000" />
<rect x="221.50" y="395.30" width="1.30" height="3.60" rx="0" stroke="none" stroke-width="0" fill="#000000" />
<rect x="224.60" y="395.30" width="1.30" height="3.60" rx="0" stroke="none" stroke-width="0" fill="#000000" />
<rect x="227.70" y="395.30" width="1.30" height="3.60" rx="0" stroke="none" stroke-width="0" fill="#000000" />
<rect x="230.80" y="395.30" width="1.30" height="3.60" rx="0" stroke="none" stroke-width="0" fill="#000000" />
<rect x="233.90" y="395.30" width="1.30" height="3.60" rx="0" stroke="none" stroke-width="0" fill="#000000" />
<rect x="237.00" y="395.30" width="1.30" height="3.60" rx="0" stroke="none" stroke-width="0" fill="#000000" />
<rect x="240.10" y="395.30" width="1.30" height="3.60" rx="0" stroke="none" stroke-width="0" fill="#000000" />
<rect x="243.20" y="395.30" width="1.30" height="3.60" rx="0" stroke="none" stroke-width="0" fill="#000000" />
<rect x="246.30" y="395.30" width="1.30" height="3.60" rx="0" stroke="none" stroke-width="0" fill="#000000" />
<rect x="249.40" y="395.30" width="1.30" height="3.60" rx="0" stroke="none" stroke-width="0" fill="#000000" />
<rect x="252.50" y="395.30" width="1.30" height="3.60" rx="0" stroke="none" stroke-width="0" fill="#000000" />
<line x1="99.80" y1="400.50" x2="241.00" y2="400.50" stroke="#000000" stroke-width="0.8" />
<line x1="112.50" y1="392.00" x2="112.50" y2="401.50" stroke="#ff0000" stroke-width="0.9" />
<line x1="117.50" y1="392.00" x2="117.50" y2="401.50" stroke="#ff0000" stroke-width="0.9" />
<line x1="123.50" y1="392.00" x2="123.50" y2="401.50" stroke="#ff0000" stroke-width="0.9" />
<line x1="128.50" y1="392.00" x2="128.50" y2="401.50" stroke="#ff0000" stroke-width="0.9" />
<line x1="134.50" y1="392.00" x2="134.50" y2="401.50" stroke="#ff0000" stroke-width="0.9" />
<line x1="150.50" y1="392.00" x2="150.50" y2="401.50" stroke="#ff0000" stroke-width="0.9" />
<line x1="156.50" y1="392.00" x2="156.50" y2="401.50" stroke="#ff0000" stroke-width="0.9" />
<line x1="162.50" y1="392.00" x2="162.50" y2="401.50" stroke="#ff0000" stroke-width="0.9" />
<line x1="168.50" y1="392.00" x2="168.50" y2="401.50" stroke="#ff0000" stroke-width="0.9" />
<line x1="173.50" y1="392.00" x2="173.50" y2="401.50" stroke="#ff0000" stroke-width="0.9" />
<line x1="181.50" y1="392.00" x2="181.50" y2="401.50" stroke="#ff0000" stroke-width="0.9" />
<line x1="187.50" y1="392.00" x2="187.50" y2="401.50" stroke="#ff0000" stroke-width="0.9" />
<line x1="215.50" y1="392.00" x2="215.50" y2="401.50" stroke="#ff0000" stroke-width="0.9" />
<line x1="221.50" y1="392.00" x2="221.50" y2="401.50" stroke="#ff0000" stroke-width="0.9" />
<line x1="232.50" y1="392.00" x2="232.50" y2="401.50" stroke="#ff0000" stroke-width="0.9" />
<line x1="238.50" y1="392.00" x2="238.50" y2="401.50" stroke="#ff0000" stroke-width="0.9" />
<line x1="99.80" y1="424.50" x2="241.30" y2="424.50" stroke="#000000" stroke-width="1.2" />
<line x1="99.80" y1="425.50" x2="241.30" y2="425.50" stroke="#2f7f70" stroke-width="1.1" />
<line x1="99.50" y1="421.00" x2="99.50" y2="425.60" stroke="#000000" stroke-width="1" />
<line x1="241.30" y1="424.50" x2="249.40" y2="424.50" stroke="#000000" stroke-width="1" />
<line x1="244.50" y1="400.00" x2="244.50" y2="426.00" stroke="#000000" stroke-width="1" />
<line x1="249.50" y1="400.00" x2="249.50" y2="426.00" stroke="#000000" stroke-width="1" />
<rect x="82.50" y="402.50" width="49.00" height="20.00" rx="2.5" stroke="#000000" stroke-width="1.2" fill="none" />
<rect x="83.50" y="403.50" width="47.00" height="18.00" rx="1.8" stroke="#2f7f70" stroke-width="0.8" fill="none" />
<line x1="108.50" y1="402.50" x2="108.50" y2="422.50" stroke="#000000" stroke-width="1.1" />
<line x1="86.50" y1="400.80" x2="86.50" y2="404.50" stroke="#ff0000" stroke-width="1.1" />
<line x1="86.50" y1="420.50" x2="86.50" y2="424.00" stroke="#ff0000" stroke-width="1.1" />
<line x1="127.50" y1="400.80" x2="127.50" y2="404.50" stroke="#ff0000" stroke-width="1.1" />
<line x1="127.50" y1="420.50" x2="127.50" y2="424.00" stroke="#ff0000" stroke-width="1.1" />
<line x1="81.30" y1="406.50" x2="85.10" y2="406.50" stroke="#ff0000" stroke-width="1.0" />
<line x1="128.90" y1="406.50" x2="132.70" y2="406.50" stroke="#ff0000" stroke-width="1.0" />
<line x1="81.30" y1="418.50" x2="85.10" y2="418.50" stroke="#ff0000" stroke-width="1.0" />
<line x1="128.90" y1="418.50" x2="132.70" y2="418.50" stroke="#ff0000" stroke-width="1.0" />
<rect x="146.50" y="402.50" width="31.00" height="20.00" rx="2.5" stroke="#000000" stroke-width="1.2" fill="none" />
<rect x="148.50" y="403.50" width="28.00" height="18.00" rx="1.8" stroke="#2f7f70" stroke-width="0.8" fill="none" />
<line x1="150.50" y1="400.80" x2="150.50" y2="404.50" stroke="#ff0000" stroke-width="1.1" />
<line x1="150.50" y1="420.50" x2="150.50" y2="424.00" stroke="#ff0000" stroke-width="1.1" />
<line x1="173.50" y1="400.80" x2="173.50" y2="404.50" stroke="#ff0000" stroke-width="1.1" />
<line x1="173.50" y1="420.50" x2="173.50" y2="424.00" stroke="#ff0000" stroke-width="1.1" />
<line x1="145.40" y1="406.50" x2="149.20" y2="406.50" stroke="#ff0000" stroke-width="1.0" />
<line x1="175.10" y1="406.50" x2="178.90" y2="406.50" stroke="#ff0000" stroke-width="1.0" />
<line x1="145.40" y1="418.50" x2="149.20" y2="418.50" stroke="#ff0000" stroke-width="1.0" />
<line x1="175.10" y1="418.50" x2="178.90" y2="418.50" stroke="#ff0000" stroke-width="1.0" />
<rect x="193.50" y="402.50" width="34.00" height="20.00" rx="2.5" stroke="#000000" stroke-width="1.2" fill="none" />
<rect x="194.50" y="403.50" width="32.00" height="18.00" rx="1.8" stroke="#2f7f70" stroke-width="0.8" fill="none" />
<line x1="197.50" y1="400.80" x2="197.50" y2="404.50" stroke="#ff0000" stroke-width="1.1" />
<line x1="197.50" y1="420.50" x2="197.50" y2="424.00" stroke="#ff0000" stroke-width="1.1" />
<line x1="223.50" y1="400.80" x2="223.50" y2="404.50" stroke="#ff0000" stroke-width="1.1" />
<line x1="223.50" y1="420.50" x2="223.50" y2="424.00" stroke="#ff0000" stroke-width="1.1" />
<line x1="192.20" y1="406.50" x2="196.00" y2="406.50" stroke="#ff0000" stroke-width="1.0" />
<line x1="225.30" y1="406.50" x2="229.10" y2="406.50" stroke="#ff0000" stroke-width="1.0" />
<line x1="192.20" y1="418.50" x2="196.00" y2="418.50" stroke="#ff0000" stroke-width="1.0" />
<line x1="225.30" y1="418.50" x2="229.10" y2="418.50" stroke="#ff0000" stroke-width="1.0" />
<rect x="233.50" y="402.50" width="33.00" height="20.00" rx="2.5" stroke="#000000" stroke-width="1.2" fill="none" />
<rect x="234.50" y="403.50" width="31.00" height="18.00" rx="1.8" stroke="#2f7f70" stroke-width="0.8" fill="none" />
<line x1="237.50" y1="400.80" x2="237.50" y2="404.50" stroke="#ff0000" stroke-width="1.1" />
<line x1="237.50" y1="420.50" x2="237.50" y2="424.00" stroke="#ff0000" stroke-width="1.1" />
<line x1="262.50" y1="400.80" x2="262.50" y2="404.50" stroke="#ff0000" stroke-width="1.1" />
<line x1="262.50" y1="420.50" x2="262.50" y2="424.00" stroke="#ff0000" stroke-width="1.1" />
<line x1="231.90" y1="406.50" x2="235.70" y2="406.50" stroke="#ff0000" stroke-width="1.0" />
<line x1="264.10" y1="406.50" x2="267.90" y2="406.50" stroke="#ff0000" stroke-width="1.0" />
<line x1="231.90" y1="418.50" x2="235.70" y2="418.50" stroke="#ff0000" stroke-width="1.0" />
<line x1="264.10" y1="418.50" x2="267.90" y2="418.50" stroke="#ff0000" stroke-width="1.0" />
<line x1="326.20" y1="397.50" x2="455.80" y2="397.50" stroke="#000000" stroke-width="1.2" />
<line x1="358.80" y1="400.50" x2="455.80" y2="400.50" stroke="#000000" stroke-width="1.2" />
<defs><pattern id="dots" width="2" height="2" patternUnits="userSpaceOnUse"><rect x="0" y="0" width="1" height="1" fill="#000"/></pattern></defs>
<rect x="327.00" y="397.60" width="31.80" height="3.20" rx="0" stroke="none" stroke-width="0" fill="#ffff00" />
<rect x="327.00" y="397.60" width="31.80" height="3.20" fill="url(#dots)"/>
<rect x="326.50" y="397.60" width="4.60" height="32.00" rx="0" stroke="none" stroke-width="0" fill="#ffff00" />
<rect x="326.50" y="397.60" width="4.60" height="32.00" fill="url(#dots)"/>
<line x1="326.50" y1="397.50" x2="326.50" y2="429.50" stroke="#000000" stroke-width="1.0" />
<path d="M331.3,429.5 L331.3,403.5 Q331.5,401 334,400.8 L358.8,400.8" stroke="#000000" stroke-width="1.0" fill="none" />
<rect x="321.50" y="429.50" width="15.00" height="7.00" rx="0" stroke="#000000" stroke-width="1.1" fill="#ffff00" />
<path d="M323.00,435.50 L328.50,430.50 L334.00,435.50" stroke="#000000" stroke-width="0.7" fill="none" />
<path d="M333.00,427.00 L340.00,427.00 L340.00,430.00 L336.30,430.00 L336.30,431.50" stroke="#000000" stroke-width="1.1" fill="none" />
<line x1="337.50" y1="430.50" x2="474.50" y2="430.50" stroke="#000000" stroke-width="1.0" />
<rect x="337.50" y="431.00" width="137.00" height="1.70" rx="0" stroke="none" stroke-width="0" fill="#ffff00" />
<rect x="337.50" y="431.00" width="137.00" height="1.70" fill="url(#dots)"/>
<path d="M337.50,432.00 L355.00,447.00 L460.00,447.00 L474.50,432.00" stroke="#000000" stroke-width="1.2" fill="none" />
<rect x="365.50" y="432.70" width="2.00" height="14.30" rx="0" stroke="none" stroke-width="0" fill="#ffff00" />
<rect x="365.50" y="432.70" width="2.00" height="14.30" fill="url(#dots)"/>
<rect x="447.00" y="432.70" width="2.00" height="14.30" rx="0" stroke="none" stroke-width="0" fill="#ffff00" />
<rect x="447.00" y="432.70" width="2.00" height="14.30" fill="url(#dots)"/>
<line x1="365.50" y1="432.70" x2="365.50" y2="447.00" stroke="#000000" stroke-width="0.6" />
<line x1="449.50" y1="432.70" x2="449.50" y2="447.00" stroke="#000000" stroke-width="0.6" />
<rect x="455.80" y="396.80" width="28.00" height="3.80" rx="0" stroke="none" stroke-width="0" fill="#ffff00" />
<rect x="455.80" y="396.80" width="28.00" height="3.80" fill="url(#dots)"/>
<rect x="478.50" y="430.50" width="14.00" height="6.00" rx="0" stroke="#000000" stroke-width="1.1" fill="#ffff00" />
<path d="M480.50,435.80 L485.50,431.00 L490.50,435.80" stroke="#000000" stroke-width="0.6" fill="none" />
<path d="M474.50,430.30 L474.50,428.00 L483.00,428.00" stroke="#000000" stroke-width="1.2" fill="none" />
<rect x="487.50" y="384.50" width="27.00" height="21.00" rx="0" stroke="#000000" stroke-width="1.3" fill="none" />
<line x1="487.00" y1="401.50" x2="514.50" y2="401.50" stroke="#000000" stroke-width="1.0" />
<rect x="483.50" y="383.50" width="4.00" height="46.00" rx="0" stroke="#000000" stroke-width="0.8" fill="#ffff00" />
<rect x="514.50" y="383.50" width="4.00" height="48.00" rx="0" stroke="#000000" stroke-width="0.8" fill="#ffff00" />
<line x1="487.00" y1="406.50" x2="520.00" y2="406.50" stroke="#000000" stroke-width="1.0" />
<line x1="487.00" y1="412.50" x2="520.00" y2="412.50" stroke="#000000" stroke-width="1.0" />
<rect x="517.50" y="406.50" width="3.00" height="6.00" rx="0" stroke="#000000" stroke-width="1.1" fill="none" />
<line x1="478.80" y1="409.50" x2="531.20" y2="409.50" stroke="#ff0000" stroke-width="1.2" />
<line x1="328.50" y1="382.50" x2="328.50" y2="446.20" stroke="#ff0000" stroke-width="1.2" />
<line x1="407.50" y1="393.00" x2="407.50" y2="446.20" stroke="#ff0000" stroke-width="1.2" />
<line x1="407.50" y1="492.50" x2="407.50" y2="525.00" stroke="#ff0000" stroke-width="1.2" />
<line x1="485.50" y1="381.20" x2="485.50" y2="445.00" stroke="#ff0000" stroke-width="1.0" />
<line x1="515.50" y1="380.00" x2="515.50" y2="432.50" stroke="#ff0000" stroke-width="1.0" />
<line x1="36.20" y1="46.50" x2="43.80" y2="46.50" stroke="#00ffff" stroke-width="1" />
<line x1="43.80" y1="46.40" x2="90.50" y2="171.50" stroke="#00ffff" stroke-width="1" />
<line x1="57.00" y1="46.50" x2="65.00" y2="46.50" stroke="#00ffff" stroke-width="1" />
<line x1="65.00" y1="46.40" x2="99.70" y2="161.30" stroke="#00ffff" stroke-width="1" />
<line x1="86.20" y1="46.50" x2="95.50" y2="46.50" stroke="#00ffff" stroke-width="1" />
<line x1="95.50" y1="46.40" x2="160.00" y2="143.00" stroke="#00ffff" stroke-width="1" />
<line x1="109.50" y1="46.50" x2="117.00" y2="46.50" stroke="#00ffff" stroke-width="1" />
<line x1="117.00" y1="46.40" x2="151.00" y2="132.00" stroke="#00ffff" stroke-width="1" />
<line x1="132.50" y1="46.50" x2="140.50" y2="46.50" stroke="#00ffff" stroke-width="1" />
<line x1="140.50" y1="46.40" x2="161.50" y2="130.00" stroke="#00ffff" stroke-width="1" />
<line x1="157.00" y1="46.50" x2="164.20" y2="46.50" stroke="#00ffff" stroke-width="1" />
<line x1="164.20" y1="46.40" x2="160.00" y2="138.00" stroke="#00ffff" stroke-width="1" />
<line x1="207.00" y1="46.50" x2="215.00" y2="46.50" stroke="#00ffff" stroke-width="1" />
<line x1="207.00" y1="46.40" x2="171.50" y2="175.50" stroke="#00ffff" stroke-width="1" />
<line x1="223.00" y1="46.50" x2="240.00" y2="46.50" stroke="#00ffff" stroke-width="1" />
<line x1="223.00" y1="46.40" x2="184.00" y2="149.70" stroke="#00ffff" stroke-width="1" />
<line x1="247.00" y1="46.50" x2="254.50" y2="46.50" stroke="#00ffff" stroke-width="1" />
<line x1="247.00" y1="46.40" x2="204.00" y2="149.50" stroke="#00ffff" stroke-width="1" />
<line x1="279.50" y1="46.50" x2="287.00" y2="46.50" stroke="#00ffff" stroke-width="1" />
<line x1="279.50" y1="46.40" x2="207.50" y2="162.50" stroke="#00ffff" stroke-width="1" />
<line x1="230.50" y1="46.40" x2="230.50" y2="48.50" stroke="#00ffff" stroke-width="1" />
<line x1="92.20" y1="137.30" x2="258.60" y2="238.30" stroke="#00ffff" stroke-width="1" />
<line x1="105.00" y1="231.00" x2="250.00" y2="142.00" stroke="#00ffff" stroke-width="1" />
<line x1="112.90" y1="168.00" x2="150.00" y2="143.20" stroke="#00ffff" stroke-width="1" />
<line x1="175.50" y1="187.60" x2="127.40" y2="236.40" stroke="#00ffff" stroke-width="1" />
<line x1="175.50" y1="187.60" x2="150.00" y2="246.00" stroke="#00ffff" stroke-width="1" />
<line x1="53.20" y1="207.50" x2="61.20" y2="207.50" stroke="#00ffff" stroke-width="1" />
<line x1="61.20" y1="207.30" x2="100.00" y2="178.60" stroke="#00ffff" stroke-width="1" />
<line x1="42.20" y1="278.50" x2="76.60" y2="278.50" stroke="#00ffff" stroke-width="1" />
<line x1="76.60" y1="278.60" x2="112.50" y2="231.50" stroke="#00ffff" stroke-width="1" />
<line x1="50.40" y1="278.60" x2="50.90" y2="280.80" stroke="#00ffff" stroke-width="1" />
<line x1="59.20" y1="278.60" x2="59.70" y2="280.80" stroke="#00ffff" stroke-width="1" />
<line x1="68.40" y1="278.60" x2="68.90" y2="280.80" stroke="#00ffff" stroke-width="1" />
<line x1="295.00" y1="245.50" x2="302.50" y2="245.50" stroke="#00ffff" stroke-width="1" />
<line x1="295.00" y1="245.80" x2="225.00" y2="166.00" stroke="#00ffff" stroke-width="1" />
<line x1="295.00" y1="254.50" x2="302.50" y2="254.50" stroke="#00ffff" stroke-width="1" />
<line x1="295.00" y1="254.60" x2="213.00" y2="166.30" stroke="#00ffff" stroke-width="1" />
<line x1="243.00" y1="139.50" x2="281.00" y2="139.50" stroke="#00ffff" stroke-width="1" />
<line x1="250.00" y1="155.50" x2="273.00" y2="155.50" stroke="#00ffff" stroke-width="1" />
<line x1="258.00" y1="188.50" x2="282.00" y2="188.50" stroke="#00ffff" stroke-width="1" />
<line x1="264.50" y1="181.30" x2="264.50" y2="193.40" stroke="#00ffff" stroke-width="1" />
<line x1="77.80" y1="188.50" x2="90.50" y2="188.50" stroke="#00ffff" stroke-width="1" />
<line x1="264.50" y1="139.30" x2="264.50" y2="155.00" stroke="#00ffff" stroke-width="1" />
<line x1="271.50" y1="139.30" x2="271.50" y2="188.00" stroke="#00ffff" stroke-width="1" />
<line x1="279.50" y1="139.30" x2="279.50" y2="188.00" stroke="#00ffff" stroke-width="1" />
<line x1="264.50" y1="155.00" x2="264.50" y2="160.00" stroke="#00ffff" stroke-width="1" />
<line x1="228.00" y1="149.50" x2="250.00" y2="149.50" stroke="#00ffff" stroke-width="1" />
<line x1="203.00" y1="173.50" x2="243.00" y2="173.50" stroke="#00ffff" stroke-width="1" />
<line x1="207.00" y1="162.50" x2="246.00" y2="162.50" stroke="#00ffff" stroke-width="1" />
<line x1="78.60" y1="187.50" x2="92.00" y2="187.50" stroke="#00ffff" stroke-width="1" />
<line x1="84.20" y1="196.50" x2="98.50" y2="196.50" stroke="#00ffff" stroke-width="1" />
<line x1="86.50" y1="187.20" x2="86.50" y2="196.90" stroke="#00ffff" stroke-width="1" />
<line x1="345.00" y1="46.50" x2="353.70" y2="46.50" stroke="#00ffff" stroke-width="1" />
<line x1="353.70" y1="46.80" x2="378.70" y2="106.20" stroke="#00ffff" stroke-width="1" />
<line x1="373.00" y1="46.50" x2="380.00" y2="46.50" stroke="#00ffff" stroke-width="1" />
<line x1="380.00" y1="46.80" x2="402.50" y2="117.50" stroke="#00ffff" stroke-width="1" />
<line x1="481.20" y1="46.50" x2="509.00" y2="46.50" stroke="#00ffff" stroke-width="1" />
<line x1="481.20" y1="46.80" x2="453.70" y2="130.00" stroke="#00ffff" stroke-width="1" />
<line x1="489.50" y1="46.80" x2="489.50" y2="48.80" stroke="#00ffff" stroke-width="1" />
<line x1="498.50" y1="46.80" x2="498.50" y2="48.80" stroke="#00ffff" stroke-width="1" />
<line x1="548.70" y1="46.50" x2="555.00" y2="46.50" stroke="#00ffff" stroke-width="1" />
<line x1="548.70" y1="46.80" x2="497.50" y2="131.20" stroke="#00ffff" stroke-width="1" />
<line x1="370.50" y1="71.50" x2="507.50" y2="71.50" stroke="#00ffff" stroke-width="1" />
<line x1="370.50" y1="67.50" x2="370.50" y2="132.80" stroke="#00ffff" stroke-width="1" />
<line x1="507.50" y1="67.50" x2="507.50" y2="131.00" stroke="#00ffff" stroke-width="1" />
<line x1="420.00" y1="78.50" x2="455.50" y2="78.50" stroke="#00ffff" stroke-width="1" />
<line x1="426.50" y1="75.00" x2="426.50" y2="112.00" stroke="#00ffff" stroke-width="1" />
<line x1="429.50" y1="75.00" x2="429.50" y2="108.00" stroke="#00ffff" stroke-width="1" />
<line x1="455.50" y1="75.00" x2="455.50" y2="118.00" stroke="#00ffff" stroke-width="1" />
<line x1="387.70" y1="100.50" x2="426.30" y2="100.50" stroke="#00ffff" stroke-width="1" />
<line x1="387.50" y1="97.00" x2="387.50" y2="128.00" stroke="#00ffff" stroke-width="1" />
<line x1="415.50" y1="97.00" x2="415.50" y2="106.00" stroke="#00ffff" stroke-width="1" />
<line x1="343.00" y1="125.50" x2="371.30" y2="125.50" stroke="#00ffff" stroke-width="1" />
<line x1="354.90" y1="133.50" x2="369.80" y2="133.50" stroke="#00ffff" stroke-width="1" />
<line x1="343.00" y1="139.50" x2="374.30" y2="139.50" stroke="#00ffff" stroke-width="1" />
<line x1="354.40" y1="147.50" x2="380.80" y2="147.50" stroke="#00ffff" stroke-width="1" />
<line x1="356.40" y1="152.50" x2="367.80" y2="152.50" stroke="#00ffff" stroke-width="1" />
<line x1="362.90" y1="155.50" x2="367.00" y2="155.50" stroke="#00ffff" stroke-width="1" />
<line x1="346.50" y1="125.10" x2="346.50" y2="139.10" stroke="#00ffff" stroke-width="1" />
<line x1="356.50" y1="128.40" x2="356.50" y2="159.80" stroke="#00ffff" stroke-width="1" />
<line x1="366.50" y1="120.00" x2="366.50" y2="137.90" stroke="#00ffff" stroke-width="1" />
<line x1="363.50" y1="147.30" x2="363.50" y2="215.60" stroke="#00ffff" stroke-width="1" />
<line x1="361.00" y1="215.50" x2="367.00" y2="215.50" stroke="#00ffff" stroke-width="1" />
<line x1="388.50" y1="153.80" x2="388.50" y2="297.50" stroke="#00ffff" stroke-width="1" />
<line x1="495.50" y1="153.80" x2="495.50" y2="297.50" stroke="#00ffff" stroke-width="1" />
<line x1="388.20" y1="295.50" x2="495.50" y2="295.50" stroke="#00ffff" stroke-width="1" />
<line x1="398.20" y1="178.50" x2="486.30" y2="178.50" stroke="#00ffff" stroke-width="1" />
<line x1="398.50" y1="163.50" x2="398.50" y2="181.00" stroke="#00ffff" stroke-width="1" />
<line x1="486.50" y1="163.50" x2="486.50" y2="181.00" stroke="#00ffff" stroke-width="1" />
<line x1="436.00" y1="125.50" x2="441.00" y2="125.50" stroke="#00ffff" stroke-width="1" />
<line x1="436.00" y1="134.50" x2="441.00" y2="134.50" stroke="#00ffff" stroke-width="1" />
<line x1="438.50" y1="125.00" x2="438.50" y2="134.00" stroke="#00ffff" stroke-width="1" />
<line x1="388.50" y1="151.00" x2="388.50" y2="160.00" stroke="#00ffff" stroke-width="1" />
<line x1="496.50" y1="151.00" x2="496.50" y2="160.00" stroke="#00ffff" stroke-width="1" />
<line x1="88.20" y1="299.50" x2="122.50" y2="299.50" stroke="#00ffff" stroke-width="1" />
<line x1="122.50" y1="299.40" x2="145.00" y2="341.20" stroke="#00ffff" stroke-width="1" />
<line x1="99.50" y1="299.40" x2="99.50" y2="301.40" stroke="#00ffff" stroke-width="1" />
<line x1="107.50" y1="299.40" x2="107.50" y2="301.40" stroke="#00ffff" stroke-width="1" />
<line x1="116.50" y1="299.40" x2="116.50" y2="301.40" stroke="#00ffff" stroke-width="1" />
<line x1="226.20" y1="299.50" x2="251.80" y2="299.50" stroke="#00ffff" stroke-width="1" />
<line x1="226.20" y1="299.40" x2="211.20" y2="375.00" stroke="#00ffff" stroke-width="1" />
<line x1="235.50" y1="299.40" x2="235.50" y2="301.40" stroke="#00ffff" stroke-width="1" />
<line x1="243.50" y1="299.40" x2="243.50" y2="301.40" stroke="#00ffff" stroke-width="1" />
<line x1="151.20" y1="327.50" x2="175.80" y2="327.50" stroke="#00ffff" stroke-width="1" />
<line x1="151.50" y1="323.70" x2="151.50" y2="345.00" stroke="#00ffff" stroke-width="1" />
<line x1="151.20" y1="334.50" x2="164.30" y2="334.50" stroke="#00ffff" stroke-width="1" />
<line x1="164.50" y1="331.50" x2="164.50" y2="346.00" stroke="#00ffff" stroke-width="1" />
<line x1="54.50" y1="358.80" x2="54.50" y2="465.50" stroke="#00ffff" stroke-width="1" />
<line x1="51.20" y1="358.50" x2="115.00" y2="358.50" stroke="#00ffff" stroke-width="1" />
<line x1="51.20" y1="465.50" x2="115.00" y2="465.50" stroke="#00ffff" stroke-width="1" />
<line x1="73.50" y1="396.30" x2="73.50" y2="412.50" stroke="#00ffff" stroke-width="1" />
<line x1="70.50" y1="396.50" x2="97.50" y2="396.50" stroke="#00ffff" stroke-width="1" />
<line x1="70.50" y1="412.50" x2="81.20" y2="412.50" stroke="#00ffff" stroke-width="1" />
<line x1="145.30" y1="498.50" x2="204.50" y2="498.50" stroke="#00ffff" stroke-width="1" />
<line x1="145.50" y1="483.80" x2="145.50" y2="500.00" stroke="#00ffff" stroke-width="1" />
<line x1="204.50" y1="483.80" x2="204.50" y2="500.00" stroke="#00ffff" stroke-width="1" />
<line x1="278.50" y1="341.20" x2="278.50" y2="483.00" stroke="#00ffff" stroke-width="1" />
<line x1="206.20" y1="341.50" x2="282.00" y2="341.50" stroke="#00ffff" stroke-width="1" />
<line x1="207.50" y1="483.50" x2="282.50" y2="483.50" stroke="#00ffff" stroke-width="1" />
<circle cx="278.80" cy="483.00" r="0.90" stroke="#000000" stroke-width="0.5" fill="#000000" />
<line x1="328.30" y1="370.50" x2="515.60" y2="370.50" stroke="#00ffff" stroke-width="1" />
<line x1="328.50" y1="367.50" x2="328.50" y2="382.50" stroke="#00ffff" stroke-width="1" />
<line x1="485.50" y1="367.50" x2="485.50" y2="384.00" stroke="#00ffff" stroke-width="1" />
<line x1="515.50" y1="367.50" x2="515.50" y2="384.00" stroke="#00ffff" stroke-width="1" />
<line x1="328.30" y1="386.50" x2="455.80" y2="386.50" stroke="#00ffff" stroke-width="1" />
<line x1="358.50" y1="382.50" x2="358.50" y2="397.50" stroke="#00ffff" stroke-width="1" />
<line x1="455.50" y1="382.50" x2="455.50" y2="397.50" stroke="#00ffff" stroke-width="1" />
<line x1="285.20" y1="397.50" x2="326.40" y2="397.50" stroke="#00ffff" stroke-width="1" />
<line x1="288.50" y1="397.60" x2="288.50" y2="459.00" stroke="#00ffff" stroke-width="1" />
<line x1="297.40" y1="427.50" x2="326.40" y2="427.50" stroke="#00ffff" stroke-width="1" />
<line x1="297.40" y1="430.50" x2="322.00" y2="430.50" stroke="#00ffff" stroke-width="1" />
<line x1="295.50" y1="436.50" x2="322.00" y2="436.50" stroke="#00ffff" stroke-width="1" />
<line x1="306.50" y1="423.70" x2="306.50" y2="436.20" stroke="#00ffff" stroke-width="1" />
<line x1="297.50" y1="436.20" x2="297.50" y2="464.90" stroke="#00ffff" stroke-width="1" />
<path d="M308.50,442.30 L310.90,437.50 L314.00,443.00" stroke="#00ffff" stroke-width="1" fill="none" />
<line x1="322.50" y1="430.60" x2="322.50" y2="479.50" stroke="#00ffff" stroke-width="1" />
<line x1="335.50" y1="430.60" x2="335.50" y2="468.60" stroke="#00ffff" stroke-width="1" />
<line x1="337.50" y1="430.60" x2="337.50" y2="468.60" stroke="#00ffff" stroke-width="1" />
<line x1="317.60" y1="451.50" x2="321.50" y2="451.50" stroke="#00ffff" stroke-width="1" />
<line x1="338.00" y1="451.50" x2="342.00" y2="451.50" stroke="#00ffff" stroke-width="1" />
<line x1="339.60" y1="450.20" x2="346.30" y2="456.80" stroke="#00ffff" stroke-width="1" />
<line x1="374.50" y1="426.00" x2="374.50" y2="436.00" stroke="#00ffff" stroke-width="1" />
<line x1="366.00" y1="430.50" x2="376.00" y2="430.50" stroke="#00ffff" stroke-width="1" />
<line x1="447.50" y1="427.00" x2="447.50" y2="433.00" stroke="#00ffff" stroke-width="1" />
<line x1="445.00" y1="430.50" x2="454.00" y2="430.50" stroke="#00ffff" stroke-width="1" />
<line x1="322.00" y1="464.50" x2="493.00" y2="464.50" stroke="#00ffff" stroke-width="1" />
<line x1="322.00" y1="476.50" x2="493.00" y2="476.50" stroke="#00ffff" stroke-width="1" />
<line x1="476.50" y1="436.90" x2="476.50" y2="468.80" stroke="#00ffff" stroke-width="1" />
<line x1="479.50" y1="436.90" x2="479.50" y2="468.80" stroke="#00ffff" stroke-width="1" />
<line x1="493.50" y1="436.50" x2="493.50" y2="480.00" stroke="#00ffff" stroke-width="1" />
<line x1="518.10" y1="384.50" x2="546.10" y2="384.50" stroke="#00ffff" stroke-width="1" />
<line x1="542.50" y1="384.30" x2="542.50" y2="440.80" stroke="#00ffff" stroke-width="1" />
<line x1="525.00" y1="409.50" x2="531.60" y2="409.50" stroke="#00ffff" stroke-width="1" />
<line x1="528.50" y1="409.40" x2="528.50" y2="453.30" stroke="#00ffff" stroke-width="1" />
<line x1="493.00" y1="430.50" x2="512.30" y2="430.50" stroke="#00ffff" stroke-width="1" />
<line x1="493.00" y1="436.50" x2="512.30" y2="436.50" stroke="#00ffff" stroke-width="1" />
<line x1="509.50" y1="424.30" x2="509.50" y2="474.60" stroke="#00ffff" stroke-width="1" />
<line x1="472.50" y1="394.30" x2="472.50" y2="413.70" stroke="#00ffff" stroke-width="1" />
<line x1="471.70" y1="400.50" x2="483.00" y2="400.50" stroke="#00ffff" stroke-width="1" />
<line x1="471.70" y1="406.50" x2="483.00" y2="406.50" stroke="#00ffff" stroke-width="1" />
<line x1="471.70" y1="412.50" x2="483.00" y2="412.50" stroke="#00ffff" stroke-width="1" />
<line x1="476.50" y1="412.70" x2="476.50" y2="430.10" stroke="#00ffff" stroke-width="1" />
<path d="M497.50,446.00 L500.50,440.50 L503.50,446.00" stroke="#00ffff" stroke-width="1" fill="none" />
<line x1="497.00" y1="452.50" x2="505.00" y2="452.50" stroke="#00ffff" stroke-width="1" />
<line x1="473.00" y1="451.50" x2="477.00" y2="451.50" stroke="#00ffff" stroke-width="1" />
<text x="38.20" y="46.00" font-size="8.4" fill="#00ff00" text-anchor="start" font-weight="bold" stroke="#00ff00" stroke-width="0.5" >1</text>
<text x="59.50" y="46.00" font-size="8.4" fill="#00ff00" text-anchor="start" font-weight="bold" stroke="#00ff00" stroke-width="0.5" >2</text>
<text x="89.20" y="46.00" font-size="8.4" fill="#00ff00" text-anchor="start" font-weight="bold" stroke="#00ff00" stroke-width="0.5" >3</text>
<text x="111.20" y="46.00" font-size="8.4" fill="#00ff00" text-anchor="start" font-weight="bold" stroke="#00ff00" stroke-width="0.5" >4</text>
<text x="135.00" y="46.00" font-size="8.4" fill="#00ff00" text-anchor="start" font-weight="bold" stroke="#00ff00" stroke-width="0.5" >5</text>
<text x="159.20" y="46.00" font-size="8.4" fill="#00ff00" text-anchor="start" font-weight="bold" stroke="#00ff00" stroke-width="0.5" >6</text>
<text x="209.50" y="46.00" font-size="8.4" fill="#00ff00" text-anchor="start" font-weight="bold" stroke="#00ff00" stroke-width="0.5" >7</text>
<text x="226.20" y="46.00" font-size="8.4" fill="#00ff00" text-anchor="start" font-weight="bold" stroke="#00ff00" stroke-width="0.5" >8</text>
<text x="235.30" y="46.00" font-size="8.4" fill="#00ff00" text-anchor="start" font-weight="bold" stroke="#00ff00" stroke-width="0.5" >9</text>
<text x="248.80" y="46.00" font-size="8.4" fill="#00ff00" text-anchor="start" font-weight="bold" stroke="#00ff00" stroke-width="0.5" textLength="5.8" lengthAdjust="spacingAndGlyphs" >10</text>
<text x="281.20" y="46.00" font-size="8.4" fill="#00ff00" text-anchor="start" font-weight="bold" stroke="#00ff00" stroke-width="0.5" textLength="5.8" lengthAdjust="spacingAndGlyphs" >12</text>
<text x="55.00" y="207.00" font-size="8.4" fill="#00ff00" text-anchor="start" font-weight="bold" stroke="#00ff00" stroke-width="0.5" textLength="5.5" lengthAdjust="spacingAndGlyphs" >11</text>
<text x="42.50" y="278.20" font-size="8.4" fill="#00ff00" text-anchor="start" font-weight="bold" stroke="#00ff00" stroke-width="0.5" textLength="34" lengthAdjust="spacingAndGlyphs" >30.29.28.17</text>
<text x="297.00" y="245.00" font-size="8.4" fill="#00ff00" text-anchor="start" font-weight="bold" stroke="#00ff00" stroke-width="0.5" textLength="5.5" lengthAdjust="spacingAndGlyphs" >15</text>
<text x="297.00" y="254.20" font-size="8.4" fill="#00ff00" text-anchor="start" font-weight="bold" stroke="#00ff00" stroke-width="0.5" textLength="5.5" lengthAdjust="spacingAndGlyphs" >16</text>
<text x="167.00" y="180.50" font-size="8.4" fill="#00ff00" text-anchor="middle" font-weight="bold" stroke="#00ff00" stroke-width="0.5" transform="rotate(31 167.00 180.50)" textLength="17" lengthAdjust="spacingAndGlyphs" >φ5360</text>
<text x="197.00" y="183.00" font-size="8.4" fill="#00ff00" text-anchor="middle" font-weight="bold" stroke="#00ff00" stroke-width="0.5" transform="rotate(-20 197.00 183.00)" textLength="17" lengthAdjust="spacingAndGlyphs" >φ4650</text>
<text x="158.50" y="201.00" font-size="8.4" fill="#00ff00" text-anchor="middle" font-weight="bold" stroke="#00ff00" stroke-width="0.5" transform="rotate(-52 158.50 201.00)" textLength="16" lengthAdjust="spacingAndGlyphs" >φ1787</text>
<text x="270.00" y="150.50" font-size="7.8" fill="#00ff00" text-anchor="middle" font-weight="bold" stroke="#00ff00" stroke-width="0.5" transform="rotate(-90 270.00 150.50)" textLength="9" lengthAdjust="spacingAndGlyphs" >540</text>
<text x="277.00" y="162.00" font-size="7.8" fill="#00ff00" text-anchor="middle" font-weight="bold" stroke="#00ff00" stroke-width="0.5" transform="rotate(-90 277.00 162.00)" textLength="13" lengthAdjust="spacingAndGlyphs" >1632</text>
<text x="261.00" y="148.50" font-size="7.2" fill="#00ff00" text-anchor="middle" font-weight="bold" stroke="#00ff00" stroke-width="0.5" transform="rotate(-90 261.00 148.50)" textLength="7" lengthAdjust="spacingAndGlyphs" >48</text>
<text x="206.00" y="171.50" font-size="7.2" fill="#00ff00" text-anchor="middle" font-weight="bold" stroke="#00ff00" stroke-width="0.5" textLength="6" lengthAdjust="spacingAndGlyphs" >45</text>
<text x="222.00" y="171.00" font-size="7.8" fill="#00ff00" text-anchor="middle" font-weight="bold" stroke="#00ff00" stroke-width="0.5" textLength="10" lengthAdjust="spacingAndGlyphs" >760</text>
<text x="260.00" y="189.50" font-size="7.2" fill="#00ff00" text-anchor="middle" font-weight="bold" stroke="#00ff00" stroke-width="0.5" textLength="5.5" lengthAdjust="spacingAndGlyphs" >40</text>
<text x="92.50" y="192.00" font-size="7.8" fill="#00ff00" text-anchor="middle" font-weight="bold" stroke="#00ff00" stroke-width="0.5" transform="rotate(-90 92.50 192.00)" textLength="8" lengthAdjust="spacingAndGlyphs" >40</text>
<text x="132.50" y="229.50" font-size="8" fill="#00ff00" text-anchor="start" font-weight="bold" stroke="#00ff00" stroke-width="0.5" transform="rotate(-15 132.50 229.50)" textLength="4.5" lengthAdjust="spacingAndGlyphs" >A</text>
<text x="110.00" y="254.00" font-size="8" fill="#00ff00" text-anchor="start" font-weight="bold" stroke="#00ff00" stroke-width="0.5" transform="rotate(-15 110.00 254.00)" textLength="4.5" lengthAdjust="spacingAndGlyphs" >A</text>
<line x1="239.00" y1="149.50" x2="251.00" y2="149.50" stroke="#00ff00" stroke-width="1" />
<path d="M251.00,149.00 L247.50,147.20 L247.50,150.80 Z" stroke="#00ff00" stroke-width="0.5" fill="#00ff00" />
<line x1="127.00" y1="233.00" x2="132.00" y2="229.00" stroke="#00ff00" stroke-width="1" />
<line x1="115.00" y1="244.00" x2="119.00" y2="240.50" stroke="#00ff00" stroke-width="1" />
<line x1="243.00" y1="146.00" x2="246.00" y2="149.00" stroke="#ff0000" stroke-width="1" />
<text x="345.50" y="46.20" font-size="8.4" fill="#00ff00" text-anchor="start" font-weight="bold" stroke="#00ff00" stroke-width="0.5" textLength="5.8" lengthAdjust="spacingAndGlyphs" >13</text>
<text x="373.80" y="46.20" font-size="8.4" fill="#00ff00" text-anchor="start" font-weight="bold" stroke="#00ff00" stroke-width="0.5" textLength="5.8" lengthAdjust="spacingAndGlyphs" >14</text>
<text x="482.00" y="46.20" font-size="8.4" fill="#00ff00" text-anchor="start" font-weight="bold" stroke="#00ff00" stroke-width="0.5" textLength="26.5" lengthAdjust="spacingAndGlyphs" >30.31.32.33</text>
<text x="548.80" y="46.20" font-size="8.4" fill="#00ff00" text-anchor="start" font-weight="bold" stroke="#00ff00" stroke-width="0.5" textLength="5.8" lengthAdjust="spacingAndGlyphs" >16</text>
<text x="438.70" y="70.30" font-size="7.8" fill="#00ff00" text-anchor="middle" font-weight="bold" stroke="#00ff00" stroke-width="0.5" textLength="12.5" lengthAdjust="spacingAndGlyphs" >4600</text>
<text x="427.50" y="77.00" font-size="7.2" fill="#00ff00" text-anchor="middle" font-weight="bold" stroke="#00ff00" stroke-width="0.5" textLength="5.5" lengthAdjust="spacingAndGlyphs" >80</text>
<text x="443.00" y="77.00" font-size="7.2" fill="#00ff00" text-anchor="middle" font-weight="bold" stroke="#00ff00" stroke-width="0.5" textLength="9" lengthAdjust="spacingAndGlyphs" >880</text>
<text x="404.00" y="98.80" font-size="7.8" fill="#00ff00" text-anchor="middle" font-weight="bold" stroke="#00ff00" stroke-width="0.5" textLength="14.5" lengthAdjust="spacingAndGlyphs" >949.5</text>
<text x="422.00" y="98.80" font-size="7.8" fill="#00ff00" text-anchor="middle" font-weight="bold" stroke="#00ff00" stroke-width="0.5" textLength="9.5" lengthAdjust="spacingAndGlyphs" >346</text>
<text x="443.70" y="177.00" font-size="7.8" fill="#00ff00" text-anchor="middle" font-weight="bold" stroke="#00ff00" stroke-width="0.5" textLength="12.5" lengthAdjust="spacingAndGlyphs" >2170</text>
<text x="444.30" y="293.80" font-size="7.8" fill="#00ff00" text-anchor="middle" font-weight="bold" stroke="#00ff00" stroke-width="0.5" textLength="11.5" lengthAdjust="spacingAndGlyphs" >3600</text>
<text x="362.00" y="185.00" font-size="7.8" fill="#00ff00" text-anchor="middle" font-weight="bold" stroke="#00ff00" stroke-width="0.5" transform="rotate(-90 362.00 185.00)" textLength="12" lengthAdjust="spacingAndGlyphs" >2311</text>
<text x="345.00" y="131.70" font-size="8.4" fill="#00ff00" text-anchor="middle" font-weight="bold" stroke="#00ff00" stroke-width="0.5" transform="rotate(-90 345.00 131.70)" textLength="9.5" lengthAdjust="spacingAndGlyphs" >540</text>
<text x="364.70" y="128.00" font-size="8.4" fill="#00ff00" text-anchor="middle" font-weight="bold" stroke="#00ff00" stroke-width="0.5" transform="rotate(-90 364.70 128.00)" textLength="10" lengthAdjust="spacingAndGlyphs" >385</text>
<text x="355.00" y="142.00" font-size="7.8" fill="#00ff00" text-anchor="middle" font-weight="bold" stroke="#00ff00" stroke-width="0.5" transform="rotate(-90 355.00 142.00)" textLength="23" lengthAdjust="spacingAndGlyphs" >208.85</text>
<text x="361.80" y="153.80" font-size="7.8" fill="#00ff00" text-anchor="middle" font-weight="bold" stroke="#00ff00" stroke-width="0.5" transform="rotate(-90 361.80 153.80)" textLength="8" lengthAdjust="spacingAndGlyphs" >107</text>
<text x="436.00" y="129.00" font-size="7.2" fill="#00ff00" text-anchor="middle" font-weight="bold" stroke="#00ff00" stroke-width="0.5" transform="rotate(-90 436.00 129.00)" textLength="8" lengthAdjust="spacingAndGlyphs" >80</text>
<text x="585.00" y="220.20" font-size="8.4" fill="#00ff00" text-anchor="start" font-weight="bold" stroke="#00ff00" stroke-width="0.5" >1. 所有焊缝</text>
<text x="585.00" y="227.60" font-size="8.4" fill="#00ff00" text-anchor="start" font-weight="bold" stroke="#00ff00" stroke-width="0.5" >2. 斗轮(图</text>
<text x="585.00" y="235.40" font-size="8.4" fill="#00ff00" text-anchor="start" font-weight="bold" stroke="#00ff00" stroke-width="0.5" >3. 轴承座</text>
<text x="90.00" y="298.80" font-size="8.4" fill="#00ff00" text-anchor="start" font-weight="bold" stroke="#00ff00" stroke-width="0.5" textLength="32.5" lengthAdjust="spacingAndGlyphs" >34.33.32.31</text>
<text x="227.50" y="298.80" font-size="8.4" fill="#00ff00" text-anchor="start" font-weight="bold" stroke="#00ff00" stroke-width="0.5" textLength="24" lengthAdjust="spacingAndGlyphs" >35.36.37</text>
<text x="165.00" y="325.70" font-size="7.8" fill="#00ff00" text-anchor="middle" font-weight="bold" stroke="#00ff00" stroke-width="0.5" textLength="15" lengthAdjust="spacingAndGlyphs" >787.9</text>
<text x="159.00" y="332.80" font-size="7.2" fill="#00ff00" text-anchor="middle" font-weight="bold" stroke="#00ff00" stroke-width="0.5" textLength="8" lengthAdjust="spacingAndGlyphs" >431</text>
<text x="52.00" y="410.00" font-size="7.8" fill="#00ff00" text-anchor="middle" font-weight="bold" stroke="#00ff00" stroke-width="0.5" transform="rotate(-90 52.00 410.00)" textLength="12.5" lengthAdjust="spacingAndGlyphs" >3600</text>
<text x="71.50" y="404.50" font-size="7.8" fill="#00ff00" text-anchor="middle" font-weight="bold" stroke="#00ff00" stroke-width="0.5" transform="rotate(-90 71.50 404.50)" textLength="10" lengthAdjust="spacingAndGlyphs" >550</text>
<text x="176.50" y="495.80" font-size="7.8" fill="#00ff00" text-anchor="middle" font-weight="bold" stroke="#00ff00" stroke-width="0.5" textLength="12" lengthAdjust="spacingAndGlyphs" >8000</text>
<text x="278.00" y="412.50" font-size="7.8" fill="#00ff00" text-anchor="middle" font-weight="bold" stroke="#00ff00" stroke-width="0.5" transform="rotate(-90 278.00 412.50)" textLength="13" lengthAdjust="spacingAndGlyphs" >4800</text>
<text x="418.00" y="351.20" font-size="8" fill="#00ff00" text-anchor="middle" font-weight="normal" stroke="#00ff00" stroke-width="0.5" textLength="12.5" lengthAdjust="spacingAndGlyphs" >A-A</text>
<line x1="405.80" y1="353.50" x2="424.50" y2="353.50" stroke="#103010" stroke-width="1.1" />
<text x="417.00" y="360.80" font-size="8" fill="#00ff00" text-anchor="middle" font-weight="normal" stroke="#00ff00" stroke-width="0.5" textLength="7.5" lengthAdjust="spacingAndGlyphs" >16</text>
<text x="410.40" y="368.60" font-size="7.8" fill="#00ff00" text-anchor="middle" font-weight="bold" stroke="#00ff00" stroke-width="0.5" textLength="18" lengthAdjust="spacingAndGlyphs" >830×11</text>
<text x="502.50" y="368.60" font-size="7.8" fill="#00ff00" text-anchor="middle" font-weight="bold" stroke="#00ff00" stroke-width="0.5" textLength="8" lengthAdjust="spacingAndGlyphs" >170</text>
<text x="344.70" y="384.40" font-size="7.8" fill="#00ff00" text-anchor="middle" font-weight="bold" stroke="#00ff00" stroke-width="0.5" textLength="9.5" lengthAdjust="spacingAndGlyphs" >168</text>
<text x="408.00" y="384.40" font-size="7.8" fill="#00ff00" text-anchor="middle" font-weight="bold" stroke="#00ff00" stroke-width="0.5" textLength="10" lengthAdjust="spacingAndGlyphs" >544</text>
<text x="286.50" y="438.80" font-size="7.8" fill="#00ff00" text-anchor="middle" font-weight="bold" stroke="#00ff00" stroke-width="0.5" transform="rotate(-90 286.50 438.80)" textLength="14" lengthAdjust="spacingAndGlyphs" >φ5040</text>
<text x="296.00" y="433.00" font-size="7.8" fill="#00ff00" text-anchor="middle" font-weight="bold" stroke="#00ff00" stroke-width="0.5" transform="rotate(-90 296.00 433.00)" textLength="6.5" lengthAdjust="spacingAndGlyphs" >35</text>
<text x="301.30" y="427.20" font-size="7.2" fill="#00ff00" text-anchor="middle" font-weight="bold" stroke="#00ff00" stroke-width="0.5" textLength="4.6" lengthAdjust="spacingAndGlyphs" >10</text>
<text x="296.00" y="454.60" font-size="7.8" fill="#00ff00" text-anchor="middle" font-weight="bold" stroke="#00ff00" stroke-width="0.5" transform="rotate(-90 296.00 454.60)" textLength="16" lengthAdjust="spacingAndGlyphs" >4×φ485</text>
<text x="314.00" y="447.50" font-size="6.6" fill="#00ff00" text-anchor="middle" font-weight="bold" stroke="#00ff00" stroke-width="0.5" transform="rotate(-10 314.00 447.50)" textLength="9" lengthAdjust="spacingAndGlyphs" >12.5</text>
<text x="316.80" y="451.50" font-size="7.2" fill="#00ff00" text-anchor="middle" font-weight="bold" stroke="#00ff00" stroke-width="0.5" transform="rotate(-90 316.80 451.50)" textLength="9.5" lengthAdjust="spacingAndGlyphs" >16.5</text>
<text x="344.80" y="449.80" font-size="7.2" fill="#00ff00" text-anchor="middle" font-weight="bold" stroke="#00ff00" stroke-width="0.5" transform="rotate(-90 344.80 449.80)" textLength="9.5" lengthAdjust="spacingAndGlyphs" >10.5</text>
<text x="330.00" y="463.80" font-size="7.8" fill="#00ff00" text-anchor="middle" font-weight="bold" stroke="#00ff00" stroke-width="0.5" textLength="5.6" lengthAdjust="spacingAndGlyphs" >80</text>
<text x="337.80" y="463.80" font-size="7.8" fill="#00ff00" text-anchor="middle" font-weight="bold" stroke="#00ff00" stroke-width="0.5" textLength="3.6" lengthAdjust="spacingAndGlyphs" >10</text>
<text x="408.70" y="463.20" font-size="7.8" fill="#00ff00" text-anchor="middle" font-weight="bold" stroke="#00ff00" stroke-width="0.5" textLength="9" lengthAdjust="spacingAndGlyphs" >780</text>
<text x="410.00" y="475.30" font-size="7.8" fill="#00ff00" text-anchor="middle" font-weight="bold" stroke="#00ff00" stroke-width="0.5" textLength="12.5" lengthAdjust="spacingAndGlyphs" >964±</text>
<text x="370.00" y="429.30" font-size="7.8" fill="#00ff00" text-anchor="middle" font-weight="bold" stroke="#00ff00" stroke-width="0.5" >5</text>
<text x="445.50" y="429.50" font-size="7.2" fill="#00ff00" text-anchor="middle" font-weight="bold" stroke="#00ff00" stroke-width="0.5" textLength="4.5" lengthAdjust="spacingAndGlyphs" >10</text>
<text x="470.00" y="402.00" font-size="7.2" fill="#00ff00" text-anchor="middle" font-weight="bold" stroke="#00ff00" stroke-width="0.5" transform="rotate(-90 470.00 402.00)" textLength="7.5" lengthAdjust="spacingAndGlyphs" >24</text>
<text x="471.70" y="420.50" font-size="7.2" fill="#00ff00" text-anchor="middle" font-weight="bold" stroke="#00ff00" stroke-width="0.5" transform="rotate(-90 471.70 420.50)" textLength="7.5" lengthAdjust="spacingAndGlyphs" >97</text>
<text x="508.00" y="432.60" font-size="7.8" fill="#00ff00" text-anchor="middle" font-weight="bold" stroke="#00ff00" stroke-width="0.5" transform="rotate(-90 508.00 432.60)" textLength="6.8" lengthAdjust="spacingAndGlyphs" >35</text>
<text x="472.60" y="452.80" font-size="7.2" fill="#00ff00" text-anchor="middle" font-weight="bold" stroke="#00ff00" stroke-width="0.5" transform="rotate(-90 472.60 452.80)" textLength="10.5" lengthAdjust="spacingAndGlyphs" >16.5</text>
<text x="478.50" y="463.80" font-size="7.8" fill="#00ff00" text-anchor="middle" font-weight="bold" stroke="#00ff00" stroke-width="0.5" textLength="4" lengthAdjust="spacingAndGlyphs" >10</text>
<text x="485.80" y="463.80" font-size="7.8" fill="#00ff00" text-anchor="middle" font-weight="bold" stroke="#00ff00" stroke-width="0.5" textLength="5.6" lengthAdjust="spacingAndGlyphs" >80</text>
<text x="541.60" y="429.60" font-size="7.8" fill="#00ff00" text-anchor="middle" font-weight="bold" stroke="#00ff00" stroke-width="0.5" transform="rotate(-90 541.60 429.60)" textLength="14.5" lengthAdjust="spacingAndGlyphs" >φ5300</text>
<text x="528.60" y="437.80" font-size="7.8" fill="#00ff00" text-anchor="middle" font-weight="bold" stroke="#00ff00" stroke-width="0.5" transform="rotate(-90 528.60 437.80)" textLength="15.5" lengthAdjust="spacingAndGlyphs" >P=45%</text>
<text x="508.30" y="465.40" font-size="7.8" fill="#00ff00" text-anchor="middle" font-weight="bold" stroke="#00ff00" stroke-width="0.5" transform="rotate(-90 508.30 465.40)" textLength="16.5" lengthAdjust="spacingAndGlyphs" >P4×φ8</text>
<text x="503.00" y="447.00" font-size="6.6" fill="#00ff00" text-anchor="middle" font-weight="bold" stroke="#00ff00" stroke-width="0.5" textLength="9" lengthAdjust="spacingAndGlyphs" >12.5</text>
<text x="506.00" y="442.00" font-size="6.0" fill="#00ff00" text-anchor="middle" font-weight="bold" stroke="#00ff00" stroke-width="0.5" textLength="5" lengthAdjust="spacingAndGlyphs" >10</text>
</svg>
<div id="tab">布局1</div>
</div>
</body></html>
